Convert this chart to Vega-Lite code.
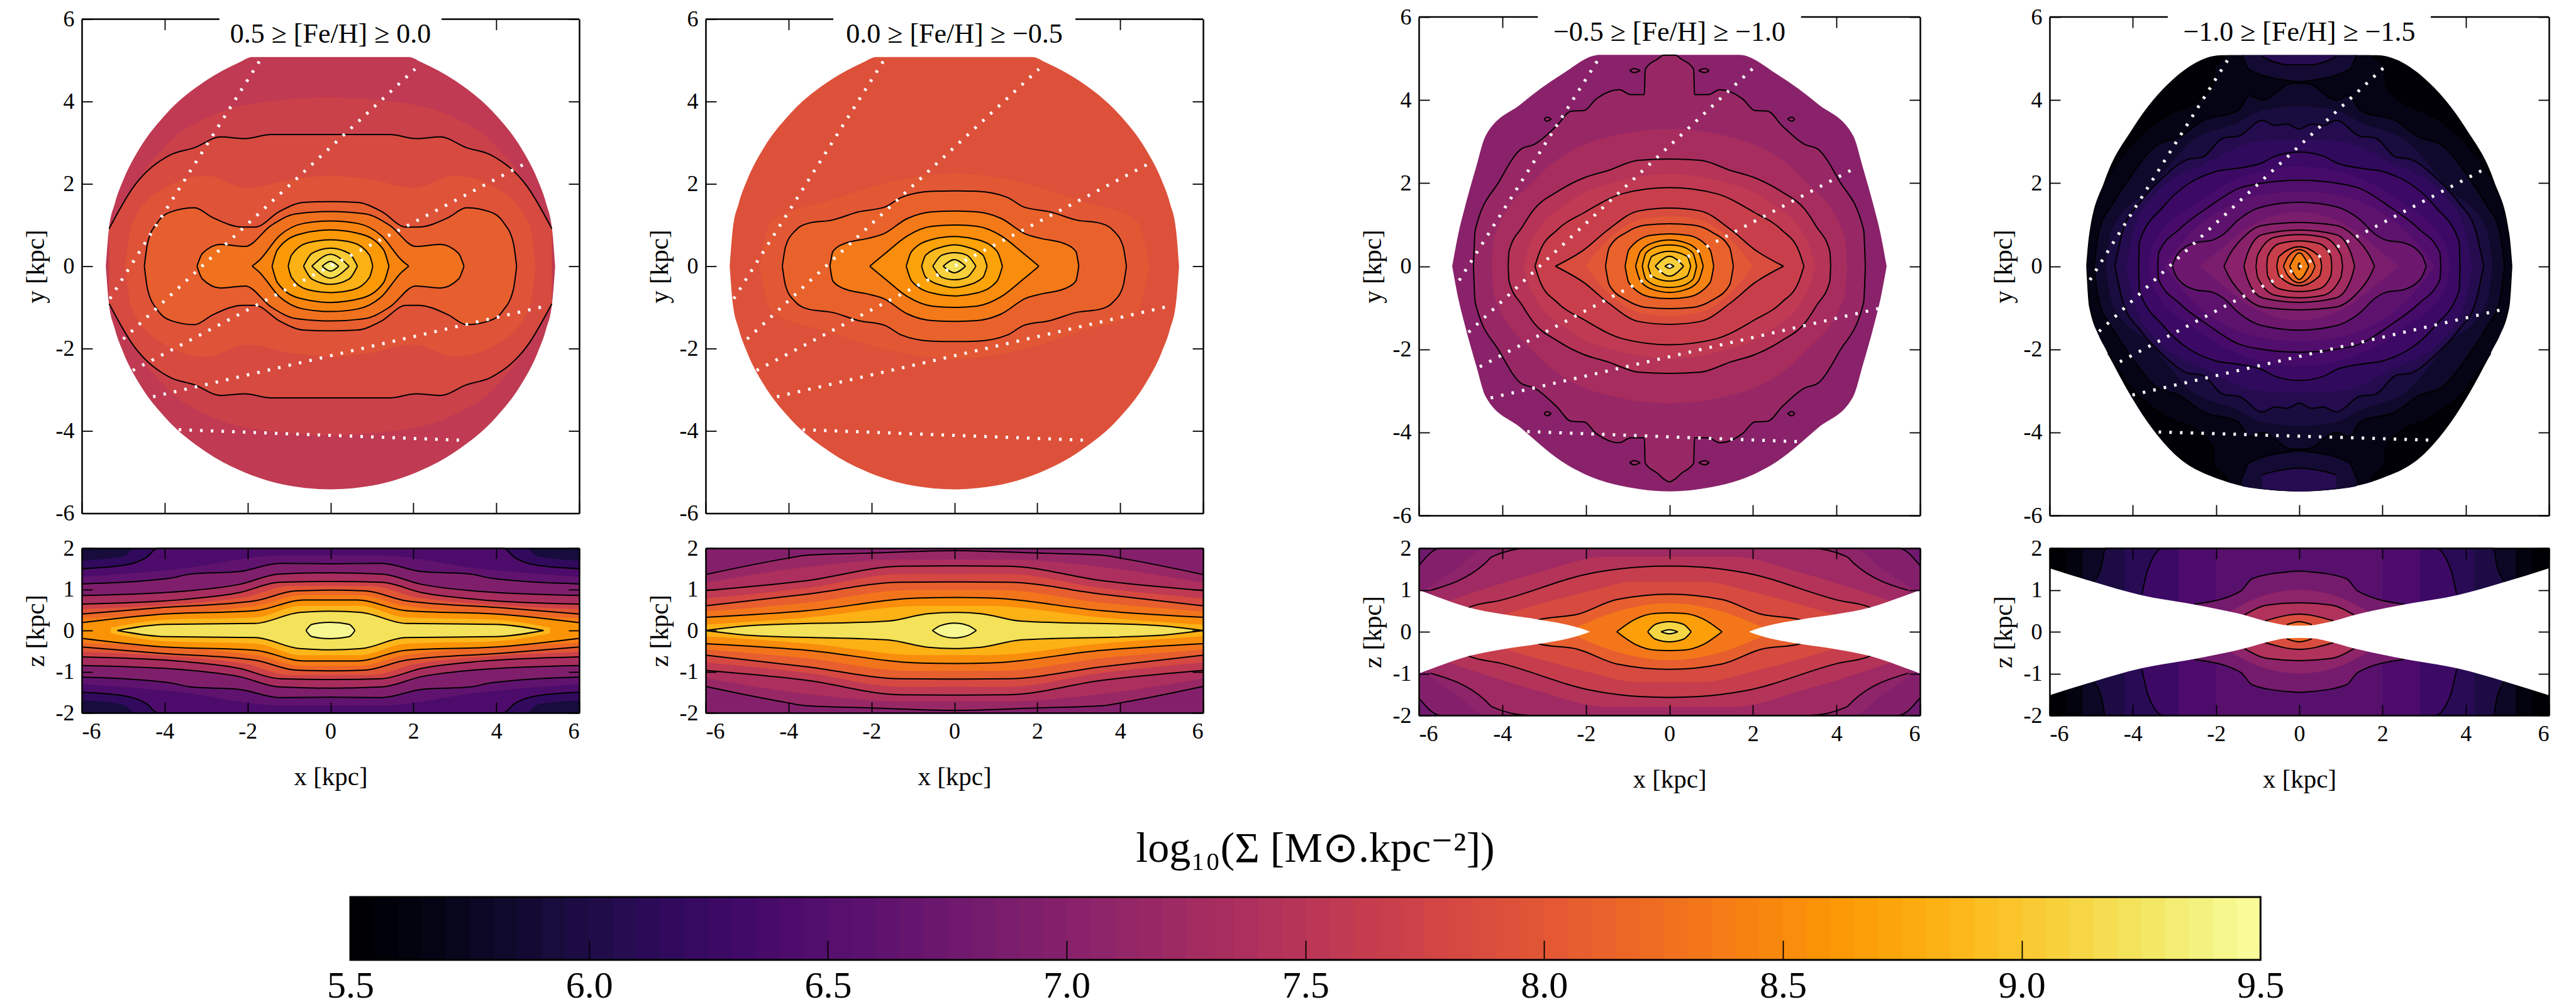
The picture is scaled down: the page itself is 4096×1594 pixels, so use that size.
{"$schema":"https://vega.github.io/schema/vega-lite/v6.json","background":"white","padding":{"left":36,"top":9,"right":0,"bottom":0},
"config":{"view":{"stroke":null},"axis":{"grid":false,"domainColor":"black","domainWidth":2.5,"tickColor":"black","tickWidth":1.8,"tickSize":-17,"labelFont":"Liberation Serif","labelFontSize":36,"labelColor":"black","labelPadding":29,"titleFont":"Liberation Serif","titleFontSize":41,"titleFontWeight":"normal","titleColor":"black"},"line":{"stroke":"black","strokeWidth":2,"interpolate":"monotone"},"area":{"interpolate":"monotone"},"rule":{"stroke":"black","strokeWidth":2.5},"text":{"font":"Liberation Serif","fontSize":44,"color":"black","baseline":"middle"}},
"datasets":{
"f1":[
{"v":7.55,"x":-5.42,"a":0,"b":0},{"v":7.55,"x":-5.35,"a":0.86,"b":-0.86},{"v":7.55,"x":-5.2,"a":1.53,"b":-1.53},{"v":7.55,"x":-5,"a":2.09,"b":-2.09},{"v":7.55,"x":-4.6,"a":2.87,"b":-2.87},{"v":7.55,"x":-4,"a":3.66,"b":-3.66},{"v":7.55,"x":-3,"a":4.51,"b":-4.51},{"v":7.55,"x":-2.2,"a":4.95,"b":-4.95},{"v":7.55,"x":-1.89,"a":5.08,"b":-5.08},{"v":7.55,"x":-1,"a":5.08,"b":-5.33},{"v":7.55,"x":0,"a":5.08,"b":-5.42},{"v":7.55,"x":1,"a":5.08,"b":-5.33},{"v":7.55,"x":1.89,"a":5.08,"b":-5.08},{"v":7.55,"x":2.2,"a":4.95,"b":-4.95},{"v":7.55,"x":3,"a":4.51,"b":-4.51},{"v":7.55,"x":4,"a":3.66,"b":-3.66},{"v":7.55,"x":4.6,"a":2.87,"b":-2.87},{"v":7.55,"x":5,"a":2.09,"b":-2.09},{"v":7.55,"x":5.2,"a":1.53,"b":-1.53},{"v":7.55,"x":5.35,"a":0.86,"b":-0.86},{"v":7.55,"x":5.42,"a":0,"b":0},
{"v":7.68,"x":-5.1,"a":0,"b":0},{"v":7.68,"x":-4.9,"a":1.4,"b":-1.4},{"v":7.68,"x":-4,"a":2.9,"b":-2.9},{"v":7.68,"x":-3,"a":3.6,"b":-3.6},{"v":7.68,"x":-1.5,"a":4,"b":-4},{"v":7.68,"x":0,"a":4.1,"b":-4.1},{"v":7.68,"x":1.5,"a":4,"b":-4},{"v":7.68,"x":3,"a":3.6,"b":-3.6},{"v":7.68,"x":4,"a":2.9,"b":-2.9},{"v":7.68,"x":4.9,"a":1.4,"b":-1.4},{"v":7.68,"x":5.1,"a":0,"b":0},
{"c":3,"v":7.82,"x":-5.34,"a":0.91,"b":-0.91},{"c":3,"v":7.82,"x":-4.75,"a":1.93,"b":-1.93},{"c":3,"v":7.82,"x":-3.87,"a":2.7,"b":-2.7},{"c":3,"v":7.82,"x":-3.28,"a":2.88,"b":-2.88},{"c":3,"v":7.82,"x":-2.65,"a":3.14,"b":-3.14},{"c":3,"v":7.82,"x":-2.07,"a":3.1,"b":-3.1},{"c":3,"v":7.82,"x":-1.43,"a":3.2,"b":-3.2},{"c":3,"v":7.82,"x":0,"a":3.2,"b":-3.2},{"c":3,"v":7.82,"x":1.43,"a":3.2,"b":-3.2},{"c":3,"v":7.82,"x":2.07,"a":3.1,"b":-3.1},{"c":3,"v":7.82,"x":2.65,"a":3.14,"b":-3.14},{"c":3,"v":7.82,"x":3.28,"a":2.88,"b":-2.88},{"c":3,"v":7.82,"x":3.87,"a":2.7,"b":-2.7},{"c":3,"v":7.82,"x":4.75,"a":1.93,"b":-1.93},{"c":3,"v":7.82,"x":5.34,"a":0.91,"b":-0.91},
{"v":7.93,"x":-4.95,"a":0,"b":0},{"v":7.93,"x":-4.8,"a":1,"b":-1},{"v":7.93,"x":-4,"a":1.9,"b":-1.9},{"v":7.93,"x":-3,"a":2.2,"b":-2.2},{"v":7.93,"x":-2,"a":1.9,"b":-1.9},{"v":7.93,"x":-1,"a":2.1,"b":-2.1},{"v":7.93,"x":0,"a":2.2,"b":-2.2},{"v":7.93,"x":1,"a":2.1,"b":-2.1},{"v":7.93,"x":2,"a":1.9,"b":-1.9},{"v":7.93,"x":3,"a":2.2,"b":-2.2},{"v":7.93,"x":4,"a":1.9,"b":-1.9},{"v":7.93,"x":4.8,"a":1,"b":-1},{"v":7.93,"x":4.95,"a":0,"b":0},
{"c":3,"v":8.05,"x":-4.49,"a":0,"b":0},{"c":3,"v":8.05,"x":-4.41,"a":0.57,"b":-0.57},{"c":3,"v":8.05,"x":-4.16,"a":1.08,"b":-1.08},{"c":3,"v":8.05,"x":-3.82,"a":1.33,"b":-1.33},{"c":3,"v":8.05,"x":-3.28,"a":1.42,"b":-1.42},{"c":3,"v":8.05,"x":-2.84,"a":1.18,"b":-1.18},{"c":3,"v":8.05,"x":-2.11,"a":0.95,"b":-0.95},{"c":3,"v":8.05,"x":-1.82,"a":0.95,"b":-0.95},{"c":3,"v":8.05,"x":-1.23,"a":1.33,"b":-1.33},{"c":3,"v":8.05,"x":-0.65,"a":1.55,"b":-1.55},{"c":3,"v":8.05,"x":0,"a":1.57,"b":-1.57},{"c":3,"v":8.05,"x":0.65,"a":1.55,"b":-1.55},{"c":3,"v":8.05,"x":1.23,"a":1.33,"b":-1.33},{"c":3,"v":8.05,"x":1.82,"a":0.95,"b":-0.95},{"c":3,"v":8.05,"x":2.11,"a":0.95,"b":-0.95},{"c":3,"v":8.05,"x":2.84,"a":1.18,"b":-1.18},{"c":3,"v":8.05,"x":3.28,"a":1.42,"b":-1.42},{"c":3,"v":8.05,"x":3.82,"a":1.33,"b":-1.33},{"c":3,"v":8.05,"x":4.16,"a":1.08,"b":-1.08},{"c":3,"v":8.05,"x":4.41,"a":0.57,"b":-0.57},{"c":3,"v":8.05,"x":4.49,"a":0,"b":0},
{"c":3,"v":8.25,"x":-3.22,"a":0,"b":0},{"c":3,"v":8.25,"x":-3.09,"a":0.31,"b":-0.31},{"c":3,"v":8.25,"x":-2.65,"a":0.53,"b":-0.53},{"c":3,"v":8.25,"x":-2.06,"a":0.48,"b":-0.48},{"c":3,"v":8.25,"x":-1.43,"a":0.99,"b":-0.99},{"c":3,"v":8.25,"x":-0.84,"a":1.27,"b":-1.27},{"c":3,"v":8.25,"x":0,"a":1.33,"b":-1.33},{"c":3,"v":8.25,"x":0.84,"a":1.27,"b":-1.27},{"c":3,"v":8.25,"x":1.43,"a":0.99,"b":-0.99},{"c":3,"v":8.25,"x":2.06,"a":0.48,"b":-0.48},{"c":3,"v":8.25,"x":2.65,"a":0.53,"b":-0.53},{"c":3,"v":8.25,"x":3.09,"a":0.31,"b":-0.31},{"c":3,"v":8.25,"x":3.22,"a":0,"b":0},
{"c":3,"v":8.42,"x":-1.89,"a":0,"b":0},{"c":3,"v":8.42,"x":-1.72,"a":0.14,"b":-0.14},{"c":3,"v":8.42,"x":-1.23,"a":0.74,"b":-0.74},{"c":3,"v":8.42,"x":-0.65,"a":1.04,"b":-1.04},{"c":3,"v":8.42,"x":0,"a":1.1,"b":-1.1},{"c":3,"v":8.42,"x":0.65,"a":1.04,"b":-1.04},{"c":3,"v":8.42,"x":1.23,"a":0.74,"b":-0.74},{"c":3,"v":8.42,"x":1.72,"a":0.14,"b":-0.14},{"c":3,"v":8.42,"x":1.89,"a":0,"b":0},
{"c":3,"v":8.6,"x":-1.41,"a":0,"b":0},{"c":3,"v":8.6,"x":-1.28,"a":0.4,"b":-0.4},{"c":3,"v":8.6,"x":-0.74,"a":0.78,"b":-0.78},{"c":3,"v":8.6,"x":0,"a":0.88,"b":-0.88},{"c":3,"v":8.6,"x":0.74,"a":0.78,"b":-0.78},{"c":3,"v":8.6,"x":1.28,"a":0.4,"b":-0.4},{"c":3,"v":8.6,"x":1.41,"a":0,"b":0},
{"c":3,"v":8.8,"x":-1.02,"a":0,"b":0},{"c":3,"v":8.8,"x":-0.94,"a":0.27,"b":-0.27},{"c":3,"v":8.8,"x":-0.55,"a":0.57,"b":-0.57},{"c":3,"v":8.8,"x":0,"a":0.64,"b":-0.64},{"c":3,"v":8.8,"x":0.55,"a":0.57,"b":-0.57},{"c":3,"v":8.8,"x":0.94,"a":0.27,"b":-0.27},{"c":3,"v":8.8,"x":1.02,"a":0,"b":0},
{"c":3,"v":9,"x":-0.65,"a":0,"b":0},{"c":3,"v":9,"x":-0.45,"a":0.31,"b":-0.31},{"c":3,"v":9,"x":0,"a":0.44,"b":-0.44},{"c":3,"v":9,"x":0.45,"a":0.31,"b":-0.31},{"c":3,"v":9,"x":0.65,"a":0,"b":0},
{"c":3,"v":9.15,"x":-0.45,"a":0,"b":0},{"c":3,"v":9.15,"x":0,"a":0.29,"b":-0.29},{"c":3,"v":9.15,"x":0.45,"a":0,"b":0},
{"c":3,"v":9.3,"x":-0.2,"a":0,"b":0},{"c":3,"v":9.3,"x":0,"a":0.12,"b":-0.12},{"c":3,"v":9.3,"x":0.2,"a":0,"b":0}],
"f2":[
{"v":7.9,"x":-5.42,"a":0,"b":0},{"v":7.9,"x":-5.35,"a":0.86,"b":-0.86},{"v":7.9,"x":-5.2,"a":1.53,"b":-1.53},{"v":7.9,"x":-5,"a":2.09,"b":-2.09},{"v":7.9,"x":-4.6,"a":2.87,"b":-2.87},{"v":7.9,"x":-4,"a":3.66,"b":-3.66},{"v":7.9,"x":-3,"a":4.51,"b":-4.51},{"v":7.9,"x":-2.2,"a":4.95,"b":-4.95},{"v":7.9,"x":-1.89,"a":5.08,"b":-5.08},{"v":7.9,"x":-1,"a":5.08,"b":-5.33},{"v":7.9,"x":0,"a":5.08,"b":-5.42},{"v":7.9,"x":1,"a":5.08,"b":-5.33},{"v":7.9,"x":1.89,"a":5.08,"b":-5.08},{"v":7.9,"x":2.2,"a":4.95,"b":-4.95},{"v":7.9,"x":3,"a":4.51,"b":-4.51},{"v":7.9,"x":4,"a":3.66,"b":-3.66},{"v":7.9,"x":4.6,"a":2.87,"b":-2.87},{"v":7.9,"x":5,"a":2.09,"b":-2.09},{"v":7.9,"x":5.2,"a":1.53,"b":-1.53},{"v":7.9,"x":5.35,"a":0.86,"b":-0.86},{"v":7.9,"x":5.42,"a":0,"b":0},
{"v":7.98,"x":-4.7,"a":0,"b":0},{"v":7.98,"x":-4.4,"a":1.1,"b":-1.1},{"v":7.98,"x":-3,"a":1.6,"b":-1.6},{"v":7.98,"x":-1.3,"a":2.1,"b":-2.1},{"v":7.98,"x":0,"a":2.25,"b":-2.25},{"v":7.98,"x":1.3,"a":2.1,"b":-2.1},{"v":7.98,"x":3,"a":1.6,"b":-1.6},{"v":7.98,"x":4.4,"a":1.1,"b":-1.1},{"v":7.98,"x":4.7,"a":0,"b":0},
{"c":3,"v":8.1,"x":-4.15,"a":0,"b":0},{"c":3,"v":8.1,"x":-4.07,"a":0.48,"b":-0.48},{"c":3,"v":8.1,"x":-3.83,"a":0.87,"b":-0.87},{"c":3,"v":8.1,"x":-3.53,"a":1.04,"b":-1.04},{"c":3,"v":8.1,"x":-2.95,"a":1.12,"b":-1.12},{"c":3,"v":8.1,"x":-2.31,"a":1.32,"b":-1.32},{"c":3,"v":8.1,"x":-1.67,"a":1.44,"b":-1.44},{"c":3,"v":8.1,"x":-1.28,"a":1.67,"b":-1.67},{"c":3,"v":8.1,"x":-0.54,"a":1.82,"b":-1.82},{"c":3,"v":8.1,"x":0,"a":1.83,"b":-1.83},{"c":3,"v":8.1,"x":0.54,"a":1.82,"b":-1.82},{"c":3,"v":8.1,"x":1.28,"a":1.67,"b":-1.67},{"c":3,"v":8.1,"x":1.67,"a":1.44,"b":-1.44},{"c":3,"v":8.1,"x":2.31,"a":1.32,"b":-1.32},{"c":3,"v":8.1,"x":2.95,"a":1.12,"b":-1.12},{"c":3,"v":8.1,"x":3.53,"a":1.04,"b":-1.04},{"c":3,"v":8.1,"x":3.83,"a":0.87,"b":-0.87},{"c":3,"v":8.1,"x":4.07,"a":0.48,"b":-0.48},{"c":3,"v":8.1,"x":4.15,"a":0,"b":0},
{"c":3,"v":8.32,"x":-3,"a":0,"b":0},{"c":3,"v":8.32,"x":-2.93,"a":0.36,"b":-0.36},{"c":3,"v":8.32,"x":-2.65,"a":0.55,"b":-0.55},{"c":3,"v":8.32,"x":-2.11,"a":0.67,"b":-0.67},{"c":3,"v":8.32,"x":-1.72,"a":0.78,"b":-0.78},{"c":3,"v":8.32,"x":-1.13,"a":1.16,"b":-1.16},{"c":3,"v":8.32,"x":-0.54,"a":1.32,"b":-1.32},{"c":3,"v":8.32,"x":0,"a":1.34,"b":-1.34},{"c":3,"v":8.32,"x":0.54,"a":1.32,"b":-1.32},{"c":3,"v":8.32,"x":1.13,"a":1.16,"b":-1.16},{"c":3,"v":8.32,"x":1.72,"a":0.78,"b":-0.78},{"c":3,"v":8.32,"x":2.11,"a":0.67,"b":-0.67},{"c":3,"v":8.32,"x":2.65,"a":0.55,"b":-0.55},{"c":3,"v":8.32,"x":2.93,"a":0.36,"b":-0.36},{"c":3,"v":8.32,"x":3,"a":0,"b":0},
{"c":3,"v":8.5,"x":-2.04,"a":0,"b":0},{"c":3,"v":8.5,"x":-1.67,"a":0.31,"b":-0.31},{"c":3,"v":8.5,"x":-1.13,"a":0.74,"b":-0.74},{"c":3,"v":8.5,"x":-0.54,"a":0.97,"b":-0.97},{"c":3,"v":8.5,"x":0,"a":1,"b":-1},{"c":3,"v":8.5,"x":0.54,"a":0.97,"b":-0.97},{"c":3,"v":8.5,"x":1.13,"a":0.74,"b":-0.74},{"c":3,"v":8.5,"x":1.67,"a":0.31,"b":-0.31},{"c":3,"v":8.5,"x":2.04,"a":0,"b":0},
{"c":3,"v":8.68,"x":-1.16,"a":0,"b":0},{"c":3,"v":8.68,"x":-1.03,"a":0.36,"b":-0.36},{"c":3,"v":8.68,"x":-0.54,"a":0.65,"b":-0.65},{"c":3,"v":8.68,"x":0,"a":0.72,"b":-0.72},{"c":3,"v":8.68,"x":0.54,"a":0.65,"b":-0.65},{"c":3,"v":8.68,"x":1.03,"a":0.36,"b":-0.36},{"c":3,"v":8.68,"x":1.16,"a":0,"b":0},
{"c":3,"v":8.88,"x":-0.79,"a":0,"b":0},{"c":3,"v":8.88,"x":-0.69,"a":0.27,"b":-0.27},{"c":3,"v":8.88,"x":-0.25,"a":0.48,"b":-0.48},{"c":3,"v":8.88,"x":0,"a":0.52,"b":-0.52},{"c":3,"v":8.88,"x":0.25,"a":0.48,"b":-0.48},{"c":3,"v":8.88,"x":0.69,"a":0.27,"b":-0.27},{"c":3,"v":8.88,"x":0.79,"a":0,"b":0},
{"c":3,"v":9.05,"x":-0.52,"a":0,"b":0},{"c":3,"v":9.05,"x":-0.3,"a":0.27,"b":-0.27},{"c":3,"v":9.05,"x":0,"a":0.33,"b":-0.33},{"c":3,"v":9.05,"x":0.3,"a":0.27,"b":-0.27},{"c":3,"v":9.05,"x":0.52,"a":0,"b":0},
{"c":3,"v":9.2,"x":-0.27,"a":0,"b":0},{"c":3,"v":9.2,"x":0,"a":0.16,"b":-0.16},{"c":3,"v":9.2,"x":0.27,"a":0,"b":0}],
"f3":[
{"v":7,"x":-5.2,"a":0,"b":0},{"v":7,"x":-5.05,"a":0.8,"b":-0.8},{"v":7,"x":-4.91,"a":1.37,"b":-1.37},{"v":7,"x":-4.63,"a":2.38,"b":-2.38},{"v":7,"x":-4.4,"a":3.14,"b":-3.14},{"v":7,"x":-3.56,"a":3.9,"b":-3.89},{"v":7,"x":-2.59,"a":4.61,"b":-4.69},{"v":7,"x":-1.67,"a":5.09,"b":-5.15},{"v":7,"x":-1,"a":5.09,"b":-5.32},{"v":7,"x":0,"a":5.09,"b":-5.42},{"v":7,"x":1,"a":5.09,"b":-5.32},{"v":7,"x":1.67,"a":5.09,"b":-5.15},{"v":7,"x":2.59,"a":4.61,"b":-4.69},{"v":7,"x":3.56,"a":3.9,"b":-3.89},{"v":7,"x":4.4,"a":3.14,"b":-3.14},{"v":7,"x":4.63,"a":2.38,"b":-2.38},{"v":7,"x":4.91,"a":1.37,"b":-1.37},{"v":7,"x":5.05,"a":0.8,"b":-0.8},{"v":7,"x":5.2,"a":0,"b":0},
{"c":3,"v":7.101,"x":-0.95,"a":4.71,"b":4.71},{"c":3,"v":7.101,"x":-0.85,"a":4.76,"b":4.66},{"c":3,"v":7.101,"x":-0.7,"a":4.71,"b":4.71},{"c":3,"v":7.102,"x":0.7,"a":4.71,"b":4.71},{"c":3,"v":7.102,"x":0.85,"a":4.76,"b":4.66},{"c":3,"v":7.102,"x":0.95,"a":4.71,"b":4.71},
{"c":3,"v":7.103,"x":-0.95,"a":-4.73,"b":-4.73},{"c":3,"v":7.103,"x":-0.85,"a":-4.68,"b":-4.78},{"c":3,"v":7.103,"x":-0.7,"a":-4.73,"b":-4.73},{"c":3,"v":7.104,"x":0.7,"a":-4.73,"b":-4.73},{"c":3,"v":7.104,"x":0.85,"a":-4.68,"b":-4.78},{"c":3,"v":7.104,"x":0.95,"a":-4.73,"b":-4.73},
{"c":3,"v":7.105,"x":-3,"a":3.54,"b":3.54},{"c":3,"v":7.105,"x":-2.93,"a":3.59,"b":3.49},{"c":3,"v":7.105,"x":-2.83,"a":3.54,"b":3.54},{"c":3,"v":7.106,"x":2.83,"a":3.54,"b":3.54},{"c":3,"v":7.106,"x":2.93,"a":3.59,"b":3.49},{"c":3,"v":7.106,"x":3,"a":3.54,"b":3.54},
{"c":3,"v":7.107,"x":-3,"a":-3.55,"b":-3.55},{"c":3,"v":7.107,"x":-2.93,"a":-3.5,"b":-3.6},{"c":3,"v":7.107,"x":-2.83,"a":-3.55,"b":-3.55},{"c":3,"v":7.108,"x":2.83,"a":-3.55,"b":-3.55},{"c":3,"v":7.108,"x":2.93,"a":-3.5,"b":-3.6},{"c":3,"v":7.108,"x":3,"a":-3.55,"b":-3.55},
{"c":3,"v":7.15,"x":-4.69,"a":0,"b":0},{"c":3,"v":7.15,"x":-4.65,"a":0.87,"b":-0.87},{"c":3,"v":7.15,"x":-4.07,"a":2.05,"b":-2.05},{"c":3,"v":7.15,"x":-3.55,"a":2.82,"b":-2.82},{"c":3,"v":7.15,"x":-3.24,"a":2.93,"b":-2.93},{"c":3,"v":7.15,"x":-2.69,"a":3.39,"b":-3.39},{"c":3,"v":7.15,"x":-2.36,"a":3.73,"b":-3.73},{"c":3,"v":7.15,"x":-2.04,"a":3.75,"b":-3.75},{"c":3,"v":7.15,"x":-1.76,"a":4.02,"b":-4.02},{"c":3,"v":7.15,"x":-1.2,"a":4.25,"b":-4.25},{"c":3,"v":7.15,"x":-0.93,"a":4.13,"b":-4.13},{"c":3,"v":7.15,"x":-0.6,"a":4.13,"b":-4.13},{"c":3,"v":7.15,"x":-0.58,"a":4.74,"b":-4.74},{"c":3,"v":7.15,"x":-0.28,"a":4.99,"b":-4.99},{"c":3,"v":7.15,"x":-0.14,"a":5.08,"b":-5.12},{"c":3,"v":7.15,"x":0,"a":5.08,"b":-5.19},{"c":3,"v":7.15,"x":0.14,"a":5.08,"b":-5.12},{"c":3,"v":7.15,"x":0.28,"a":4.99,"b":-4.99},{"c":3,"v":7.15,"x":0.58,"a":4.74,"b":-4.74},{"c":3,"v":7.15,"x":0.6,"a":4.13,"b":-4.13},{"c":3,"v":7.15,"x":0.93,"a":4.13,"b":-4.13},{"c":3,"v":7.15,"x":1.2,"a":4.25,"b":-4.25},{"c":3,"v":7.15,"x":1.76,"a":4.02,"b":-4.02},{"c":3,"v":7.15,"x":2.04,"a":3.75,"b":-3.75},{"c":3,"v":7.15,"x":2.36,"a":3.73,"b":-3.73},{"c":3,"v":7.15,"x":2.69,"a":3.39,"b":-3.39},{"c":3,"v":7.15,"x":3.24,"a":2.93,"b":-2.93},{"c":3,"v":7.15,"x":3.55,"a":2.82,"b":-2.82},{"c":3,"v":7.15,"x":4.07,"a":2.05,"b":-2.05},{"c":3,"v":7.15,"x":4.65,"a":0.87,"b":-0.87},{"c":3,"v":7.15,"x":4.69,"a":0,"b":0},
{"v":7.3,"x":-4.25,"a":0,"b":0},{"v":7.3,"x":-4.2,"a":0.7,"b":-0.7},{"v":7.3,"x":-3.2,"a":2.1,"b":-2.1},{"v":7.3,"x":-1.5,"a":3.1,"b":-3.1},{"v":7.3,"x":0,"a":3.3,"b":-3.3},{"v":7.3,"x":1.5,"a":3.1,"b":-3.1},{"v":7.3,"x":3.2,"a":2.1,"b":-2.1},{"v":7.3,"x":4.2,"a":0.7,"b":-0.7},{"v":7.3,"x":4.25,"a":0,"b":0},
{"c":3,"v":7.45,"x":-3.86,"a":0,"b":0},{"c":3,"v":7.45,"x":-3.84,"a":0.36,"b":-0.36},{"c":3,"v":7.45,"x":-3.52,"a":0.95,"b":-0.95},{"c":3,"v":7.45,"x":-3.24,"a":1.37,"b":-1.37},{"c":3,"v":7.45,"x":-2.69,"a":1.79,"b":-1.79},{"c":3,"v":7.45,"x":-2.04,"a":2.13,"b":-2.13},{"c":3,"v":7.45,"x":-1.48,"a":2.3,"b":-2.3},{"c":3,"v":7.45,"x":-0.74,"a":2.55,"b":-2.55},{"c":3,"v":7.45,"x":0,"a":2.58,"b":-2.58},{"c":3,"v":7.45,"x":0.74,"a":2.55,"b":-2.55},{"c":3,"v":7.45,"x":1.48,"a":2.3,"b":-2.3},{"c":3,"v":7.45,"x":2.04,"a":2.13,"b":-2.13},{"c":3,"v":7.45,"x":2.69,"a":1.79,"b":-1.79},{"c":3,"v":7.45,"x":3.24,"a":1.37,"b":-1.37},{"c":3,"v":7.45,"x":3.52,"a":0.95,"b":-0.95},{"c":3,"v":7.45,"x":3.84,"a":0.36,"b":-0.36},{"c":3,"v":7.45,"x":3.86,"a":0,"b":0},
{"v":7.55,"x":-3.5,"a":0,"b":0},{"v":7.55,"x":-3.3,"a":0.6,"b":-0.6},{"v":7.55,"x":-2.4,"a":1.55,"b":-1.55},{"v":7.55,"x":-1.2,"a":2.05,"b":-2.05},{"v":7.55,"x":0,"a":2.22,"b":-2.22},{"v":7.55,"x":1.2,"a":2.05,"b":-2.05},{"v":7.55,"x":2.4,"a":1.55,"b":-1.55},{"v":7.55,"x":3.3,"a":0.6,"b":-0.6},{"v":7.55,"x":3.5,"a":0,"b":0},
{"c":3,"v":7.65,"x":-3.22,"a":0,"b":0},{"c":3,"v":7.65,"x":-3.1,"a":0.36,"b":-0.36},{"c":3,"v":7.65,"x":-2.69,"a":0.87,"b":-0.87},{"c":3,"v":7.65,"x":-2.04,"a":1.29,"b":-1.29},{"c":3,"v":7.65,"x":-1.11,"a":1.75,"b":-1.75},{"c":3,"v":7.65,"x":0,"a":1.89,"b":-1.89},{"c":3,"v":7.65,"x":1.11,"a":1.75,"b":-1.75},{"c":3,"v":7.65,"x":2.04,"a":1.29,"b":-1.29},{"c":3,"v":7.65,"x":2.69,"a":0.87,"b":-0.87},{"c":3,"v":7.65,"x":3.1,"a":0.36,"b":-0.36},{"c":3,"v":7.65,"x":3.22,"a":0,"b":0},
{"c":3,"v":7.85,"x":-2.73,"a":0,"b":0},{"c":3,"v":7.85,"x":-2.04,"a":0.4,"b":-0.4},{"c":3,"v":7.85,"x":-1.48,"a":0.87,"b":-0.87},{"c":3,"v":7.85,"x":-0.74,"a":1.33,"b":-1.33},{"c":3,"v":7.85,"x":0,"a":1.4,"b":-1.4},{"c":3,"v":7.85,"x":0.74,"a":1.33,"b":-1.33},{"c":3,"v":7.85,"x":1.48,"a":0.87,"b":-0.87},{"c":3,"v":7.85,"x":2.04,"a":0.4,"b":-0.4},{"c":3,"v":7.85,"x":2.73,"a":0,"b":0},
{"v":7.97,"x":-2,"a":0,"b":0},{"v":7.97,"x":-1.6,"a":0.5,"b":-0.5},{"v":7.97,"x":-0.7,"a":1.12,"b":-1.12},{"v":7.97,"x":0,"a":1.2,"b":-1.2},{"v":7.97,"x":0.7,"a":1.12,"b":-1.12},{"v":7.97,"x":1.6,"a":0.5,"b":-0.5},{"v":7.97,"x":2,"a":0,"b":0},
{"c":3,"v":8.1,"x":-1.53,"a":0,"b":0},{"c":3,"v":8.1,"x":-1.44,"a":0.45,"b":-0.45},{"c":3,"v":8.1,"x":-1.02,"a":0.82,"b":-0.82},{"c":3,"v":8.1,"x":-0.56,"a":0.99,"b":-0.99},{"c":3,"v":8.1,"x":0,"a":1.02,"b":-1.02},{"c":3,"v":8.1,"x":0.56,"a":0.99,"b":-0.99},{"c":3,"v":8.1,"x":1.02,"a":0.82,"b":-0.82},{"c":3,"v":8.1,"x":1.44,"a":0.45,"b":-0.45},{"c":3,"v":8.1,"x":1.53,"a":0,"b":0},
{"c":3,"v":8.4,"x":-1.06,"a":0,"b":0},{"c":3,"v":8.4,"x":-0.97,"a":0.4,"b":-0.4},{"c":3,"v":8.4,"x":-0.46,"a":0.74,"b":-0.74},{"c":3,"v":8.4,"x":0,"a":0.78,"b":-0.78},{"c":3,"v":8.4,"x":0.46,"a":0.74,"b":-0.74},{"c":3,"v":8.4,"x":0.97,"a":0.4,"b":-0.4},{"c":3,"v":8.4,"x":1.06,"a":0,"b":0},
{"c":3,"v":8.55,"x":-0.81,"a":0,"b":0},{"c":3,"v":8.55,"x":-0.69,"a":0.36,"b":-0.36},{"c":3,"v":8.55,"x":-0.37,"a":0.57,"b":-0.57},{"c":3,"v":8.55,"x":0,"a":0.63,"b":-0.63},{"c":3,"v":8.55,"x":0.37,"a":0.57,"b":-0.57},{"c":3,"v":8.55,"x":0.69,"a":0.36,"b":-0.36},{"c":3,"v":8.55,"x":0.81,"a":0,"b":0},
{"c":3,"v":8.72,"x":-0.65,"a":0,"b":0},{"c":3,"v":8.72,"x":-0.56,"a":0.32,"b":-0.32},{"c":3,"v":8.72,"x":-0.23,"a":0.49,"b":-0.49},{"c":3,"v":8.72,"x":0,"a":0.51,"b":-0.51},{"c":3,"v":8.72,"x":0.23,"a":0.49,"b":-0.49},{"c":3,"v":8.72,"x":0.56,"a":0.32,"b":-0.32},{"c":3,"v":8.72,"x":0.65,"a":0,"b":0},
{"c":3,"v":8.88,"x":-0.51,"a":0,"b":0},{"c":3,"v":8.88,"x":-0.42,"a":0.24,"b":-0.24},{"c":3,"v":8.88,"x":0,"a":0.36,"b":-0.36},{"c":3,"v":8.88,"x":0.42,"a":0.24,"b":-0.24},{"c":3,"v":8.88,"x":0.51,"a":0,"b":0},
{"c":3,"v":9.05,"x":-0.34,"a":0,"b":0},{"c":3,"v":9.05,"x":0,"a":0.24,"b":-0.24},{"c":3,"v":9.05,"x":0.34,"a":0,"b":0},
{"c":3,"v":9.2,"x":-0.11,"a":0,"b":0},{"c":3,"v":9.2,"x":0,"a":0.05,"b":-0.05},{"c":3,"v":9.2,"x":0.11,"a":0,"b":0}],
"f4":[
{"v":5.52,"x":-5.12,"a":0,"b":0},{"v":5.52,"x":-5.05,"a":0.76,"b":-0.98},{"v":5.52,"x":-4.68,"a":2.05,"b":-1.9},{"v":5.52,"x":-4.02,"a":3.29,"b":-3.17},{"v":5.52,"x":-3,"a":4.53,"b":-4.52},{"v":5.52,"x":-1.86,"a":5.08,"b":-5.15},{"v":5.52,"x":-0.94,"a":5.08,"b":-5.36},{"v":5.52,"x":0,"a":5.08,"b":-5.42},{"v":5.52,"x":0.94,"a":5.08,"b":-5.36},{"v":5.52,"x":1.86,"a":5.08,"b":-5.15},{"v":5.52,"x":3,"a":4.53,"b":-4.52},{"v":5.52,"x":4.02,"a":3.29,"b":-3.17},{"v":5.52,"x":4.68,"a":2.05,"b":-1.9},{"v":5.52,"x":5.05,"a":0.76,"b":-0.98},{"v":5.52,"x":5.12,"a":0,"b":0},
{"v":5.65,"x":-5.1,"a":0,"b":0},{"v":5.65,"x":-5.03,"a":0.76,"b":-0.9},{"v":5.65,"x":-4.6,"a":2.14,"b":-2.1},{"v":5.65,"x":-4.02,"a":2.93,"b":-2.93},{"v":5.65,"x":-3.05,"a":3.69,"b":-3.69},{"v":5.65,"x":-2.52,"a":3.91,"b":-3.91},{"v":5.65,"x":-2.06,"a":4.4,"b":-4.4},{"v":5.65,"x":-2.05,"a":4.75,"b":-4.75},{"v":5.65,"x":-1.73,"a":5.06,"b":-5.1},{"v":5.65,"x":-1.7,"a":5.08,"b":-5.2},{"v":5.65,"x":0,"a":5.08,"b":-5.42},{"v":5.65,"x":1.7,"a":5.08,"b":-5.2},{"v":5.65,"x":1.73,"a":5.06,"b":-5.1},{"v":5.65,"x":2.05,"a":4.75,"b":-4.75},{"v":5.65,"x":2.06,"a":4.4,"b":-4.4},{"v":5.65,"x":2.52,"a":3.91,"b":-3.91},{"v":5.65,"x":3.05,"a":3.69,"b":-3.69},{"v":5.65,"x":4.02,"a":2.93,"b":-2.93},{"v":5.65,"x":4.6,"a":2.14,"b":-2.1},{"v":5.65,"x":5.03,"a":0.76,"b":-0.9},{"v":5.65,"x":5.1,"a":0,"b":0},
{"c":1,"v":5.651,"x":-4.6,"a":2.14,"b":2.14},{"c":1,"v":5.651,"x":-4.02,"a":2.93,"b":2.93},{"c":1,"v":5.651,"x":-3.05,"a":3.69,"b":3.69},{"c":1,"v":5.651,"x":-2.52,"a":3.91,"b":3.91},{"c":1,"v":5.651,"x":-2.06,"a":4.4,"b":4.4},{"c":1,"v":5.651,"x":-2.05,"a":4.75,"b":4.75},{"c":1,"v":5.651,"x":-1.73,"a":5.06,"b":5.06},
{"c":1,"v":5.652,"x":4.6,"a":2.14,"b":2.14},{"c":1,"v":5.652,"x":4.02,"a":2.93,"b":2.93},{"c":1,"v":5.652,"x":3.05,"a":3.69,"b":3.69},{"c":1,"v":5.652,"x":2.52,"a":3.91,"b":3.91},{"c":1,"v":5.652,"x":2.06,"a":4.4,"b":4.4},{"c":1,"v":5.652,"x":2.05,"a":4.75,"b":4.75},{"c":1,"v":5.652,"x":1.73,"a":5.06,"b":5.06},
{"c":1,"v":5.653,"x":-4.6,"a":-2.1,"b":-2.1},{"c":1,"v":5.653,"x":-4.02,"a":-2.93,"b":-2.93},{"c":1,"v":5.653,"x":-3.05,"a":-3.69,"b":-3.69},{"c":1,"v":5.653,"x":-2.52,"a":-3.91,"b":-3.91},{"c":1,"v":5.653,"x":-2.06,"a":-4.4,"b":-4.4},{"c":1,"v":5.653,"x":-2.05,"a":-4.75,"b":-4.75},{"c":1,"v":5.653,"x":-1.73,"a":-5.15,"b":-5.15},
{"c":1,"v":5.654,"x":4.6,"a":-2.1,"b":-2.1},{"c":1,"v":5.654,"x":4.02,"a":-2.93,"b":-2.93},{"c":1,"v":5.654,"x":3.05,"a":-3.69,"b":-3.69},{"c":1,"v":5.654,"x":2.52,"a":-3.91,"b":-3.91},{"c":1,"v":5.654,"x":2.06,"a":-4.4,"b":-4.4},{"c":1,"v":5.654,"x":2.05,"a":-4.75,"b":-4.75},{"c":1,"v":5.654,"x":1.73,"a":-5.15,"b":-5.15},
{"c":2,"v":5.851,"x":-1.37,"a":5.08,"b":5.08},{"c":2,"v":5.851,"x":-1.2,"a":5.08,"b":4.73},{"c":2,"v":5.851,"x":-0.18,"a":5.08,"b":4.46},{"c":2,"v":5.851,"x":0,"a":5.08,"b":4.44},{"c":2,"v":5.851,"x":0.18,"a":5.08,"b":4.46},{"c":2,"v":5.851,"x":1.2,"a":5.08,"b":4.73},{"c":2,"v":5.851,"x":1.37,"a":5.08,"b":5.08},
{"c":1,"v":5.852,"x":-1.37,"a":-5.1,"b":-5.3},{"c":1,"v":5.852,"x":-1.2,"a":-4.73,"b":-5.33},{"c":1,"v":5.852,"x":-0.18,"a":-4.46,"b":-5.41},{"c":1,"v":5.852,"x":0,"a":-4.44,"b":-5.42},{"c":1,"v":5.852,"x":0.18,"a":-4.46,"b":-5.41},{"c":1,"v":5.852,"x":1.2,"a":-4.73,"b":-5.33},{"c":1,"v":5.852,"x":1.37,"a":-5.1,"b":-5.3},
{"c":2,"v":6.051,"x":-0.89,"a":5.08,"b":5.05},{"c":2,"v":6.051,"x":-0.58,"a":5.08,"b":4.91},{"c":2,"v":6.051,"x":-0.27,"a":5.08,"b":4.85},{"c":2,"v":6.051,"x":0,"a":5.08,"b":4.85},{"c":2,"v":6.051,"x":0.27,"a":5.08,"b":4.85},{"c":2,"v":6.051,"x":0.58,"a":5.08,"b":4.91},{"c":2,"v":6.051,"x":0.89,"a":5.08,"b":5.05},
{"c":1,"v":6.052,"x":-0.89,"a":-5.02,"b":-5.34},{"c":1,"v":6.052,"x":-0.5,"a":-4.92,"b":-5.39},{"c":1,"v":6.052,"x":0,"a":-4.86,"b":-5.42},{"c":1,"v":6.052,"x":0.5,"a":-4.92,"b":-5.39},{"c":1,"v":6.052,"x":0.89,"a":-5.02,"b":-5.34},
{"c":3,"v":5.8,"x":-4.93,"a":0,"b":0},{"c":3,"v":5.8,"x":-4.9,"a":0.27,"b":-0.27},{"c":3,"v":5.8,"x":-4.81,"a":0.85,"b":-0.85},{"c":3,"v":5.8,"x":-4.5,"a":1.47,"b":-1.47},{"c":3,"v":5.8,"x":-4.1,"a":2.09,"b":-2.09},{"c":3,"v":5.8,"x":-3.4,"a":2.93,"b":-2.93},{"c":3,"v":5.8,"x":-2.87,"a":3.11,"b":-3.11},{"c":3,"v":5.8,"x":-2.34,"a":3.49,"b":-3.49},{"c":3,"v":5.8,"x":-1.46,"a":3.75,"b":-3.75},{"c":3,"v":5.8,"x":-1.2,"a":4.11,"b":-4.11},{"c":3,"v":5.8,"x":-0.89,"a":4,"b":-4},{"c":3,"v":5.8,"x":-0.18,"a":4.4,"b":-4.4},{"c":3,"v":5.8,"x":0.18,"a":4.4,"b":-4.4},{"c":3,"v":5.8,"x":0.89,"a":4,"b":-4},{"c":3,"v":5.8,"x":1.2,"a":4.11,"b":-4.11},{"c":3,"v":5.8,"x":1.46,"a":3.75,"b":-3.75},{"c":3,"v":5.8,"x":2.34,"a":3.49,"b":-3.49},{"c":3,"v":5.8,"x":2.87,"a":3.11,"b":-3.11},{"c":3,"v":5.8,"x":3.4,"a":2.93,"b":-2.93},{"c":3,"v":5.8,"x":4.1,"a":2.09,"b":-2.09},{"c":3,"v":5.8,"x":4.5,"a":1.47,"b":-1.47},{"c":3,"v":5.8,"x":4.81,"a":0.85,"b":-0.85},{"c":3,"v":5.8,"x":4.9,"a":0.27,"b":-0.27},{"c":3,"v":5.8,"x":4.93,"a":0,"b":0},
{"v":5.92,"x":-4.65,"a":0,"b":0},{"v":5.92,"x":-4.5,"a":0.9,"b":-0.9},{"v":5.92,"x":-3.55,"a":1.9,"b":-1.9},{"v":5.92,"x":-2.6,"a":3,"b":-3},{"v":5.92,"x":-1.5,"a":3.45,"b":-3.45},{"v":5.92,"x":-0.9,"a":3.75,"b":-3.75},{"v":5.92,"x":0,"a":3.85,"b":-3.85},{"v":5.92,"x":0.9,"a":3.75,"b":-3.75},{"v":5.92,"x":1.5,"a":3.45,"b":-3.45},{"v":5.92,"x":2.6,"a":3,"b":-3},{"v":5.92,"x":3.55,"a":1.9,"b":-1.9},{"v":5.92,"x":4.5,"a":0.9,"b":-0.9},{"v":5.92,"x":4.65,"a":0,"b":0},
{"c":3,"v":6.03,"x":-4.43,"a":0,"b":0},{"c":3,"v":6.03,"x":-4.24,"a":0.85,"b":-0.85},{"c":3,"v":6.03,"x":-3.84,"a":1.52,"b":-1.52},{"c":3,"v":6.03,"x":-3.27,"a":2.14,"b":-2.14},{"c":3,"v":6.03,"x":-2.65,"a":2.58,"b":-2.58},{"c":3,"v":6.03,"x":-2.34,"a":2.62,"b":-2.62},{"c":3,"v":6.03,"x":-1.81,"a":3.09,"b":-3.09},{"c":3,"v":6.03,"x":-1.46,"a":3.13,"b":-3.13},{"c":3,"v":6.03,"x":-0.89,"a":3.51,"b":-3.51},{"c":3,"v":6.03,"x":-0.58,"a":3.39,"b":-3.39},{"c":3,"v":6.03,"x":-0.3,"a":3.42,"b":-3.42},{"c":3,"v":6.03,"x":0,"a":3.3,"b":-3.3},{"c":3,"v":6.03,"x":0.3,"a":3.42,"b":-3.42},{"c":3,"v":6.03,"x":0.58,"a":3.39,"b":-3.39},{"c":3,"v":6.03,"x":0.89,"a":3.51,"b":-3.51},{"c":3,"v":6.03,"x":1.46,"a":3.13,"b":-3.13},{"c":3,"v":6.03,"x":1.81,"a":3.09,"b":-3.09},{"c":3,"v":6.03,"x":2.34,"a":2.62,"b":-2.62},{"c":3,"v":6.03,"x":2.65,"a":2.58,"b":-2.58},{"c":3,"v":6.03,"x":3.27,"a":2.14,"b":-2.14},{"c":3,"v":6.03,"x":3.84,"a":1.52,"b":-1.52},{"c":3,"v":6.03,"x":4.24,"a":0.85,"b":-0.85},{"c":3,"v":6.03,"x":4.43,"a":0,"b":0},
{"v":6.14,"x":-4.15,"a":0,"b":0},{"v":6.14,"x":-4,"a":0.8,"b":-0.8},{"v":6.14,"x":-3.5,"a":1.7,"b":-1.7},{"v":6.14,"x":-2.2,"a":2.5,"b":-2.5},{"v":6.14,"x":-1,"a":3,"b":-3},{"v":6.14,"x":0,"a":3.05,"b":-3.05},{"v":6.14,"x":1,"a":3,"b":-3},{"v":6.14,"x":2.2,"a":2.5,"b":-2.5},{"v":6.14,"x":3.5,"a":1.7,"b":-1.7},{"v":6.14,"x":4,"a":0.8,"b":-0.8},{"v":6.14,"x":4.15,"a":0,"b":0},
{"c":3,"v":6.25,"x":-3.86,"a":0,"b":0},{"c":3,"v":6.25,"x":-3.84,"a":0.59,"b":-0.59},{"c":3,"v":6.25,"x":-3.27,"a":1.43,"b":-1.43},{"c":3,"v":6.25,"x":-2.04,"a":2.27,"b":-2.27},{"c":3,"v":6.25,"x":-1.46,"a":2.36,"b":-2.36},{"c":3,"v":6.25,"x":-0.89,"a":2.49,"b":-2.49},{"c":3,"v":6.25,"x":-0.58,"a":2.65,"b":-2.65},{"c":3,"v":6.25,"x":0,"a":2.75,"b":-2.75},{"c":3,"v":6.25,"x":0.58,"a":2.65,"b":-2.65},{"c":3,"v":6.25,"x":0.89,"a":2.49,"b":-2.49},{"c":3,"v":6.25,"x":1.46,"a":2.36,"b":-2.36},{"c":3,"v":6.25,"x":2.04,"a":2.27,"b":-2.27},{"c":3,"v":6.25,"x":3.27,"a":1.43,"b":-1.43},{"c":3,"v":6.25,"x":3.84,"a":0.59,"b":-0.59},{"c":3,"v":6.25,"x":3.86,"a":0,"b":0},
{"v":6.35,"x":-3.62,"a":0,"b":0},{"v":6.35,"x":-3.5,"a":0.55,"b":-0.55},{"v":6.35,"x":-2.5,"a":1.5,"b":-1.5},{"v":6.35,"x":-1.5,"a":2.1,"b":-2.1},{"v":6.35,"x":0,"a":2.4,"b":-2.4},{"v":6.35,"x":1.5,"a":2.1,"b":-2.1},{"v":6.35,"x":2.5,"a":1.5,"b":-1.5},{"v":6.35,"x":3.5,"a":0.55,"b":-0.55},{"v":6.35,"x":3.62,"a":0,"b":0},
{"c":3,"v":6.45,"x":-3.4,"a":0,"b":0},{"c":3,"v":6.45,"x":-3.38,"a":0.32,"b":-0.32},{"c":3,"v":6.45,"x":-2.87,"a":0.9,"b":-0.9},{"c":3,"v":6.45,"x":-2.17,"a":1.43,"b":-1.43},{"c":3,"v":6.45,"x":-1.46,"a":1.87,"b":-1.87},{"c":3,"v":6.45,"x":-0.89,"a":2,"b":-2},{"c":3,"v":6.45,"x":0,"a":2.07,"b":-2.07},{"c":3,"v":6.45,"x":0.89,"a":2,"b":-2},{"c":3,"v":6.45,"x":1.46,"a":1.87,"b":-1.87},{"c":3,"v":6.45,"x":2.17,"a":1.43,"b":-1.43},{"c":3,"v":6.45,"x":2.87,"a":0.9,"b":-0.9},{"c":3,"v":6.45,"x":3.38,"a":0.32,"b":-0.32},{"c":3,"v":6.45,"x":3.4,"a":0,"b":0},
{"v":6.57,"x":-3.25,"a":0,"b":0},{"v":6.57,"x":-2.7,"a":0.7,"b":-0.7},{"v":6.57,"x":-1.6,"a":1.5,"b":-1.5},{"v":6.57,"x":-0.9,"a":1.72,"b":-1.72},{"v":6.57,"x":0,"a":1.8,"b":-1.8},{"v":6.57,"x":0.9,"a":1.72,"b":-1.72},{"v":6.57,"x":1.6,"a":1.5,"b":-1.5},{"v":6.57,"x":2.7,"a":0.7,"b":-0.7},{"v":6.57,"x":3.25,"a":0,"b":0},
{"c":3,"v":6.72,"x":-3.05,"a":0,"b":0},{"c":3,"v":6.72,"x":-2.94,"a":0.27,"b":-0.27},{"c":3,"v":6.72,"x":-2.52,"a":0.56,"b":-0.56},{"c":3,"v":6.72,"x":-2.08,"a":0.63,"b":-0.63},{"c":3,"v":6.72,"x":-1.81,"a":0.78,"b":-0.78},{"c":3,"v":6.72,"x":-1.46,"a":1.12,"b":-1.12},{"c":3,"v":6.72,"x":-0.89,"a":1.43,"b":-1.43},{"c":3,"v":6.72,"x":0,"a":1.54,"b":-1.54},{"c":3,"v":6.72,"x":0.89,"a":1.43,"b":-1.43},{"c":3,"v":6.72,"x":1.46,"a":1.12,"b":-1.12},{"c":3,"v":6.72,"x":1.81,"a":0.78,"b":-0.78},{"c":3,"v":6.72,"x":2.08,"a":0.63,"b":-0.63},{"c":3,"v":6.72,"x":2.52,"a":0.56,"b":-0.56},{"c":3,"v":6.72,"x":2.94,"a":0.27,"b":-0.27},{"c":3,"v":6.72,"x":3.05,"a":0,"b":0},
{"v":6.86,"x":-2.4,"a":0,"b":0},{"v":6.86,"x":-1.9,"a":0.4,"b":-0.4},{"v":6.86,"x":-1.2,"a":0.95,"b":-0.95},{"v":6.86,"x":0,"a":1.3,"b":-1.3},{"v":6.86,"x":1.2,"a":0.95,"b":-0.95},{"v":6.86,"x":1.9,"a":0.4,"b":-0.4},{"v":6.86,"x":2.4,"a":0,"b":0},
{"c":3,"v":7,"x":-1.81,"a":0,"b":0},{"c":3,"v":7,"x":-1.68,"a":0.27,"b":-0.27},{"c":3,"v":7,"x":-1.37,"a":0.67,"b":-0.67},{"c":3,"v":7,"x":-0.89,"a":0.98,"b":-0.98},{"c":3,"v":7,"x":0,"a":1.05,"b":-1.05},{"c":3,"v":7,"x":0.89,"a":0.98,"b":-0.98},{"c":3,"v":7,"x":1.37,"a":0.67,"b":-0.67},{"c":3,"v":7,"x":1.68,"a":0.27,"b":-0.27},{"c":3,"v":7,"x":1.81,"a":0,"b":0},
{"c":3,"v":7.25,"x":-1.33,"a":0,"b":0},{"c":3,"v":7.25,"x":-1.24,"a":0.32,"b":-0.32},{"c":3,"v":7.25,"x":-0.89,"a":0.76,"b":-0.76},{"c":3,"v":7.25,"x":0,"a":0.87,"b":-0.87},{"c":3,"v":7.25,"x":0.89,"a":0.76,"b":-0.76},{"c":3,"v":7.25,"x":1.24,"a":0.32,"b":-0.32},{"c":3,"v":7.25,"x":1.33,"a":0,"b":0},
{"c":3,"v":7.45,"x":-1.04,"a":0,"b":0},{"c":3,"v":7.45,"x":-1,"a":0.27,"b":-0.27},{"c":3,"v":7.45,"x":-0.58,"a":0.7,"b":-0.7},{"c":3,"v":7.45,"x":0,"a":0.76,"b":-0.76},{"c":3,"v":7.45,"x":0.58,"a":0.7,"b":-0.7},{"c":3,"v":7.45,"x":1,"a":0.27,"b":-0.27},{"c":3,"v":7.45,"x":1.04,"a":0,"b":0},
{"c":3,"v":7.65,"x":-0.78,"a":0,"b":0},{"c":3,"v":7.65,"x":-0.76,"a":0.23,"b":-0.23},{"c":3,"v":7.65,"x":-0.49,"a":0.54,"b":-0.54},{"c":3,"v":7.65,"x":0,"a":0.61,"b":-0.61},{"c":3,"v":7.65,"x":0.49,"a":0.54,"b":-0.54},{"c":3,"v":7.65,"x":0.76,"a":0.23,"b":-0.23},{"c":3,"v":7.65,"x":0.78,"a":0,"b":0},
{"c":3,"v":7.9,"x":-0.54,"a":0,"b":0},{"c":3,"v":7.9,"x":-0.49,"a":0.23,"b":-0.23},{"c":3,"v":7.9,"x":0,"a":0.47,"b":-0.47},{"c":3,"v":7.9,"x":0.49,"a":0.23,"b":-0.23},{"c":3,"v":7.9,"x":0.54,"a":0,"b":0},
{"c":3,"v":8.15,"x":-0.38,"a":0,"b":0},{"c":3,"v":8.15,"x":-0.27,"a":0.23,"b":-0.23},{"c":3,"v":8.15,"x":0,"a":0.4,"b":-0.4},{"c":3,"v":8.15,"x":0.27,"a":0.23,"b":-0.23},{"c":3,"v":8.15,"x":0.38,"a":0,"b":0},
{"c":3,"v":8.4,"x":-0.23,"a":0,"b":0},{"c":3,"v":8.4,"x":0,"a":0.32,"b":-0.32},{"c":3,"v":8.4,"x":0.23,"a":0,"b":0},
{"c":3,"v":8.55,"x":-0.03,"a":0,"b":0},{"c":3,"v":8.55,"x":0,"a":0.08,"b":-0.08},{"c":3,"v":8.55,"x":0.03,"a":0,"b":0}],
"f5":[
{"v":5.9,"x":-6,"a":2,"b":-2},{"v":5.9,"x":6,"a":2,"b":-2},
{"v":6.15,"x":-6,"a":1.7,"b":-1.7},{"v":6.15,"x":-5,"a":1.8,"b":-1.8},{"v":6.15,"x":-4.7,"a":2,"b":-2},{"v":6.15,"x":4.7,"a":2,"b":-2},{"v":6.15,"x":5,"a":1.8,"b":-1.8},{"v":6.15,"x":6,"a":1.7,"b":-1.7},
{"c":3,"v":6.4,"x":-6,"a":1.5,"b":-1.5},{"c":3,"v":6.4,"x":-4.95,"a":1.59,"b":-1.59},{"c":3,"v":6.4,"x":-4.45,"a":1.77,"b":-1.77},{"c":3,"v":6.4,"x":-4.16,"a":2,"b":-2},{"c":3,"v":6.4,"x":4.16,"a":2,"b":-2},{"c":3,"v":6.4,"x":4.45,"a":1.77,"b":-1.77},{"c":3,"v":6.4,"x":4.95,"a":1.59,"b":-1.59},{"c":3,"v":6.4,"x":6,"a":1.5,"b":-1.5},
{"v":6.6,"x":-6,"a":1.3,"b":-1.3},{"v":6.6,"x":-3.6,"a":1.5,"b":-1.5},{"v":6.6,"x":-1.2,"a":1.82,"b":-1.82},{"v":6.6,"x":1.2,"a":1.82,"b":-1.82},{"v":6.6,"x":3.6,"a":1.5,"b":-1.5},{"v":6.6,"x":6,"a":1.3,"b":-1.3},
{"c":3,"v":6.9,"x":-6,"a":1.13,"b":-1.13},{"c":3,"v":6.9,"x":-3.87,"a":1.27,"b":-1.27},{"c":3,"v":6.9,"x":-3.38,"a":1.37,"b":-1.37},{"c":3,"v":6.9,"x":-2.2,"a":1.43,"b":-1.43},{"c":3,"v":6.9,"x":-1.23,"a":1.63,"b":-1.63},{"c":3,"v":6.9,"x":0,"a":1.62,"b":-1.62},{"c":3,"v":6.9,"x":1.23,"a":1.63,"b":-1.63},{"c":3,"v":6.9,"x":2.2,"a":1.43,"b":-1.43},{"c":3,"v":6.9,"x":3.38,"a":1.37,"b":-1.37},{"c":3,"v":6.9,"x":3.87,"a":1.27,"b":-1.27},{"c":3,"v":6.9,"x":6,"a":1.13,"b":-1.13},
{"c":3,"v":7.3,"x":-6,"a":0.85,"b":-0.85},{"c":3,"v":7.3,"x":-3.58,"a":0.95,"b":-0.95},{"c":3,"v":7.3,"x":-2.2,"a":1.12,"b":-1.12},{"c":3,"v":7.3,"x":-1.23,"a":1.37,"b":-1.37},{"c":3,"v":7.3,"x":0,"a":1.4,"b":-1.4},{"c":3,"v":7.3,"x":1.23,"a":1.37,"b":-1.37},{"c":3,"v":7.3,"x":2.2,"a":1.12,"b":-1.12},{"c":3,"v":7.3,"x":3.58,"a":0.95,"b":-0.95},{"c":3,"v":7.3,"x":6,"a":0.85,"b":-0.85},
{"c":3,"v":7.7,"x":-6,"a":0.64,"b":-0.64},{"c":3,"v":7.7,"x":-3.58,"a":0.75,"b":-0.75},{"c":3,"v":7.7,"x":-2.2,"a":0.92,"b":-0.92},{"c":3,"v":7.7,"x":-1.23,"a":1.17,"b":-1.17},{"c":3,"v":7.7,"x":0,"a":1.19,"b":-1.19},{"c":3,"v":7.7,"x":1.23,"a":1.17,"b":-1.17},{"c":3,"v":7.7,"x":2.2,"a":0.92,"b":-0.92},{"c":3,"v":7.7,"x":3.58,"a":0.75,"b":-0.75},{"c":3,"v":7.7,"x":6,"a":0.64,"b":-0.64},
{"v":7.95,"x":-6,"a":0.52,"b":-0.52},{"v":7.95,"x":-2.1,"a":0.8,"b":-0.8},{"v":7.95,"x":-1,"a":1.08,"b":-1.08},{"v":7.95,"x":1,"a":1.08,"b":-1.08},{"v":7.95,"x":2.1,"a":0.8,"b":-0.8},{"v":7.95,"x":6,"a":0.52,"b":-0.52},
{"c":3,"v":8.15,"x":-6,"a":0.4,"b":-0.4},{"c":3,"v":8.15,"x":-4.16,"a":0.55,"b":-0.55},{"c":3,"v":8.15,"x":-1.82,"a":0.72,"b":-0.72},{"c":3,"v":8.15,"x":-0.84,"a":0.96,"b":-0.96},{"c":3,"v":8.15,"x":0,"a":0.98,"b":-0.98},{"c":3,"v":8.15,"x":0.84,"a":0.96,"b":-0.96},{"c":3,"v":8.15,"x":1.82,"a":0.72,"b":-0.72},{"c":3,"v":8.15,"x":4.16,"a":0.55,"b":-0.55},{"c":3,"v":8.15,"x":6,"a":0.4,"b":-0.4},
{"v":8.35,"x":-6,"a":0.3,"b":-0.3},{"v":8.35,"x":-1.8,"a":0.6,"b":-0.6},{"v":8.35,"x":-0.7,"a":0.86,"b":-0.86},{"v":8.35,"x":0.7,"a":0.86,"b":-0.86},{"v":8.35,"x":1.8,"a":0.6,"b":-0.6},{"v":8.35,"x":6,"a":0.3,"b":-0.3},
{"c":3,"v":8.55,"x":-6,"a":0.19,"b":-0.19},{"c":3,"v":8.55,"x":-4.16,"a":0.39,"b":-0.39},{"c":3,"v":8.55,"x":-1.82,"a":0.48,"b":-0.48},{"c":3,"v":8.55,"x":-0.64,"a":0.74,"b":-0.74},{"c":3,"v":8.55,"x":0,"a":0.74,"b":-0.74},{"c":3,"v":8.55,"x":0.64,"a":0.74,"b":-0.74},{"c":3,"v":8.55,"x":1.82,"a":0.48,"b":-0.48},{"c":3,"v":8.55,"x":4.16,"a":0.39,"b":-0.39},{"c":3,"v":8.55,"x":6,"a":0.19,"b":-0.19},
{"v":8.85,"x":-5.3,"a":0.07,"b":-0.07},{"v":8.85,"x":-4,"a":0.26,"b":-0.26},{"v":8.85,"x":-1.8,"a":0.32,"b":-0.32},{"v":8.85,"x":-0.7,"a":0.6,"b":-0.6},{"v":8.85,"x":0.7,"a":0.6,"b":-0.6},{"v":8.85,"x":1.8,"a":0.32,"b":-0.32},{"v":8.85,"x":4,"a":0.26,"b":-0.26},{"v":8.85,"x":5.3,"a":0.07,"b":-0.07},
{"c":3,"v":9.2,"x":-5.14,"a":0,"b":0},{"c":3,"v":9.2,"x":-3.97,"a":0.15,"b":-0.15},{"c":3,"v":9.2,"x":-1.82,"a":0.17,"b":-0.17},{"c":3,"v":9.2,"x":-0.74,"a":0.44,"b":-0.44},{"c":3,"v":9.2,"x":0,"a":0.47,"b":-0.47},{"c":3,"v":9.2,"x":0.74,"a":0.44,"b":-0.44},{"c":3,"v":9.2,"x":1.82,"a":0.17,"b":-0.17},{"c":3,"v":9.2,"x":3.97,"a":0.15,"b":-0.15},{"c":3,"v":9.2,"x":5.14,"a":0,"b":0},
{"c":3,"v":9.42,"x":-0.59,"a":0,"b":0},{"c":3,"v":9.42,"x":-0.45,"a":0.15,"b":-0.15},{"c":3,"v":9.42,"x":0,"a":0.2,"b":-0.2},{"c":3,"v":9.42,"x":0.45,"a":0.15,"b":-0.15},{"c":3,"v":9.42,"x":0.59,"a":0,"b":0}],
"f6":[
{"v":6.95,"x":-6,"a":2,"b":-2},{"v":6.95,"x":6,"a":2,"b":-2},
{"c":3,"v":7.15,"x":-6,"a":1.36,"b":-1.36},{"c":3,"v":7.15,"x":-4.05,"a":1.75,"b":-1.75},{"c":3,"v":7.15,"x":-3.56,"a":1.83,"b":-1.83},{"c":3,"v":7.15,"x":-2,"a":1.88,"b":-1.88},{"c":3,"v":7.15,"x":0,"a":1.94,"b":-1.94},{"c":3,"v":7.15,"x":2,"a":1.88,"b":-1.88},{"c":3,"v":7.15,"x":3.56,"a":1.83,"b":-1.83},{"c":3,"v":7.15,"x":4.05,"a":1.75,"b":-1.75},{"c":3,"v":7.15,"x":6,"a":1.36,"b":-1.36},
{"v":7.35,"x":-6,"a":1.16,"b":-1.16},{"v":7.35,"x":-3.5,"a":1.55,"b":-1.55},{"v":7.35,"x":-1.3,"a":1.72,"b":-1.72},{"v":7.35,"x":1.3,"a":1.72,"b":-1.72},{"v":7.35,"x":3.5,"a":1.55,"b":-1.55},{"v":7.35,"x":6,"a":1.16,"b":-1.16},
{"c":3,"v":7.55,"x":-6,"a":0.97,"b":-0.97},{"c":3,"v":7.55,"x":-3.56,"a":1.21,"b":-1.21},{"c":3,"v":7.55,"x":-1.31,"a":1.56,"b":-1.56},{"c":3,"v":7.55,"x":0,"a":1.57,"b":-1.57},{"c":3,"v":7.55,"x":1.31,"a":1.56,"b":-1.56},{"c":3,"v":7.55,"x":3.56,"a":1.21,"b":-1.21},{"c":3,"v":7.55,"x":6,"a":0.97,"b":-0.97},
{"v":7.8,"x":-6,"a":0.78,"b":-0.78},{"v":7.8,"x":-3.5,"a":1.04,"b":-1.04},{"v":7.8,"x":-1.3,"a":1.37,"b":-1.37},{"v":7.8,"x":1.3,"a":1.37,"b":-1.37},{"v":7.8,"x":3.5,"a":1.04,"b":-1.04},{"v":7.8,"x":6,"a":0.78,"b":-0.78},
{"c":3,"v":8.05,"x":-6,"a":0.6,"b":-0.6},{"c":3,"v":8.05,"x":-3.56,"a":0.88,"b":-0.88},{"c":3,"v":8.05,"x":-1.31,"a":1.17,"b":-1.17},{"c":3,"v":8.05,"x":0,"a":1.18,"b":-1.18},{"c":3,"v":8.05,"x":1.31,"a":1.17,"b":-1.17},{"c":3,"v":8.05,"x":3.56,"a":0.88,"b":-0.88},{"c":3,"v":8.05,"x":6,"a":0.6,"b":-0.6},
{"v":8.28,"x":-6,"a":0.46,"b":-0.46},{"v":8.28,"x":-3.5,"a":0.68,"b":-0.68},{"v":8.28,"x":-1.1,"a":0.98,"b":-0.98},{"v":8.28,"x":1.1,"a":0.98,"b":-0.98},{"v":8.28,"x":3.5,"a":0.68,"b":-0.68},{"v":8.28,"x":6,"a":0.46,"b":-0.46},
{"c":3,"v":8.5,"x":-6,"a":0.32,"b":-0.32},{"c":3,"v":8.5,"x":-3.56,"a":0.48,"b":-0.48},{"c":3,"v":8.5,"x":-0.82,"a":0.79,"b":-0.79},{"c":3,"v":8.5,"x":0,"a":0.8,"b":-0.8},{"c":3,"v":8.5,"x":0.82,"a":0.79,"b":-0.79},{"c":3,"v":8.5,"x":3.56,"a":0.48,"b":-0.48},{"c":3,"v":8.5,"x":6,"a":0.32,"b":-0.32},
{"v":8.8,"x":-6,"a":0.14,"b":-0.14},{"v":8.8,"x":-3.5,"a":0.32,"b":-0.32},{"v":8.8,"x":-0.8,"a":0.6,"b":-0.6},{"v":8.8,"x":0.8,"a":0.6,"b":-0.6},{"v":8.8,"x":3.5,"a":0.32,"b":-0.32},{"v":8.8,"x":6,"a":0.14,"b":-0.14},
{"c":3,"v":9.2,"x":-6,"a":0,"b":0},{"c":3,"v":9.2,"x":-4.92,"a":0.12,"b":-0.12},{"c":3,"v":9.2,"x":-1.6,"a":0.23,"b":-0.23},{"c":3,"v":9.2,"x":-0.63,"a":0.41,"b":-0.41},{"c":3,"v":9.2,"x":0,"a":0.44,"b":-0.44},{"c":3,"v":9.2,"x":0.63,"a":0.41,"b":-0.41},{"c":3,"v":9.2,"x":1.6,"a":0.23,"b":-0.23},{"c":3,"v":9.2,"x":4.92,"a":0.12,"b":-0.12},{"c":3,"v":9.2,"x":6,"a":0,"b":0},
{"c":3,"v":9.42,"x":-0.53,"a":0,"b":0},{"c":3,"v":9.42,"x":-0.33,"a":0.12,"b":-0.12},{"c":3,"v":9.42,"x":0,"a":0.18,"b":-0.18},{"c":3,"v":9.42,"x":0.33,"a":0.12,"b":-0.12},{"c":3,"v":9.42,"x":0.53,"a":0,"b":0}],
"f7":[
{"v":6.75,"x":-6,"a":2,"b":-2},{"v":6.75,"x":6,"a":2,"b":-2},
{"c":3,"v":6.95,"x":-6,"a":1.58,"b":-1.58},{"c":3,"v":6.95,"x":-5.48,"a":2,"b":-2},{"c":3,"v":6.95,"x":5.48,"a":2,"b":-2},{"c":3,"v":6.95,"x":6,"a":1.58,"b":-1.58},
{"v":7.05,"x":-5.85,"a":1,"b":-1},{"v":7.05,"x":-5.1,"a":1.5,"b":-1.5},{"v":7.05,"x":-4.4,"a":2,"b":-2},{"v":7.05,"x":4.4,"a":2,"b":-2},{"v":7.05,"x":5.1,"a":1.5,"b":-1.5},{"v":7.05,"x":5.85,"a":1,"b":-1},
{"c":3,"v":7.22,"x":-5.72,"a":0.99,"b":-0.99},{"c":3,"v":7.22,"x":-4.42,"a":1.63,"b":-1.63},{"c":3,"v":7.22,"x":-4.24,"a":1.8,"b":-1.8},{"c":3,"v":7.22,"x":-3.35,"a":2,"b":-2},{"c":3,"v":7.22,"x":3.35,"a":2,"b":-2},{"c":3,"v":7.22,"x":4.24,"a":1.8,"b":-1.8},{"c":3,"v":7.22,"x":4.42,"a":1.63,"b":-1.63},{"c":3,"v":7.22,"x":5.72,"a":0.99,"b":-0.99},
{"v":7.42,"x":-5.4,"a":0.7,"b":-0.7},{"v":7.42,"x":-3.2,"a":1.4,"b":-1.4},{"v":7.42,"x":-1.5,"a":1.8,"b":-1.8},{"v":7.42,"x":1.5,"a":1.8,"b":-1.8},{"v":7.42,"x":3.2,"a":1.4,"b":-1.4},{"v":7.42,"x":5.4,"a":0.7,"b":-0.7},
{"c":3,"v":7.62,"x":-5,"a":0.45,"b":-0.45},{"c":3,"v":7.62,"x":-4.8,"a":0.58,"b":-0.58},{"c":3,"v":7.62,"x":-4.05,"a":0.75,"b":-0.75},{"c":3,"v":7.62,"x":-1.82,"a":1.41,"b":-1.41},{"c":3,"v":7.62,"x":-0.71,"a":1.55,"b":-1.55},{"c":3,"v":7.62,"x":0,"a":1.57,"b":-1.57},{"c":3,"v":7.62,"x":0.71,"a":1.55,"b":-1.55},{"c":3,"v":7.62,"x":1.82,"a":1.41,"b":-1.41},{"c":3,"v":7.62,"x":4.05,"a":0.75,"b":-0.75},{"c":3,"v":7.62,"x":4.8,"a":0.58,"b":-0.58},{"c":3,"v":7.62,"x":5,"a":0.45,"b":-0.45},
{"v":7.82,"x":-4,"a":0.4,"b":-0.4},{"v":7.82,"x":-2,"a":0.95,"b":-0.95},{"v":7.82,"x":-0.8,"a":1.2,"b":-1.2},{"v":7.82,"x":0.8,"a":1.2,"b":-1.2},{"v":7.82,"x":2,"a":0.95,"b":-0.95},{"v":7.82,"x":4,"a":0.4,"b":-0.4},
{"c":3,"v":8.05,"x":-3.3,"a":0.15,"b":-0.15},{"c":3,"v":8.05,"x":-3.12,"a":0.29,"b":-0.29},{"c":3,"v":8.05,"x":-2.19,"a":0.42,"b":-0.42},{"c":3,"v":8.05,"x":-1.26,"a":0.77,"b":-0.77},{"c":3,"v":8.05,"x":0,"a":0.9,"b":-0.9},{"c":3,"v":8.05,"x":1.26,"a":0.77,"b":-0.77},{"c":3,"v":8.05,"x":2.19,"a":0.42,"b":-0.42},{"c":3,"v":8.05,"x":3.12,"a":0.29,"b":-0.29},{"c":3,"v":8.05,"x":3.3,"a":0.15,"b":-0.15},
{"v":8.3,"x":-2.2,"a":0.12,"b":-0.12},{"v":8.3,"x":-1.2,"a":0.5,"b":-0.5},{"v":8.3,"x":0,"a":0.68,"b":-0.68},{"v":8.3,"x":1.2,"a":0.5,"b":-0.5},{"v":8.3,"x":2.2,"a":0.12,"b":-0.12},
{"c":3,"v":8.65,"x":-1.26,"a":0,"b":0},{"c":3,"v":8.65,"x":-0.8,"a":0.31,"b":-0.31},{"c":3,"v":8.65,"x":-0.33,"a":0.44,"b":-0.44},{"c":3,"v":8.65,"x":0,"a":0.45,"b":-0.45},{"c":3,"v":8.65,"x":0.33,"a":0.44,"b":-0.44},{"c":3,"v":8.65,"x":0.8,"a":0.31,"b":-0.31},{"c":3,"v":8.65,"x":1.26,"a":0,"b":0},
{"c":3,"v":9.1,"x":-0.52,"a":0,"b":0},{"c":3,"v":9.1,"x":-0.33,"a":0.18,"b":-0.18},{"c":3,"v":9.1,"x":0,"a":0.24,"b":-0.24},{"c":3,"v":9.1,"x":0.33,"a":0.18,"b":-0.18},{"c":3,"v":9.1,"x":0.52,"a":0,"b":0},
{"c":3,"v":9.4,"x":-0.2,"a":0,"b":0},{"c":3,"v":9.4,"x":0,"a":0.05,"b":-0.05},{"c":3,"v":9.4,"x":0.2,"a":0,"b":0}],
"f8":[
{"v":5.5,"x":-6,"a":2,"b":-2},{"v":5.5,"x":6,"a":2,"b":-2},
{"v":5.6,"x":-5.6,"a":2,"b":-2},{"v":5.6,"x":5.6,"a":2,"b":-2},
{"v":5.75,"x":-5.2,"a":2,"b":-2},{"v":5.75,"x":5.2,"a":2,"b":-2},
{"c":3,"v":5.95,"x":-4.94,"a":1.19,"b":-1.19},{"c":3,"v":5.95,"x":-4.75,"a":1.58,"b":-1.58},{"c":3,"v":5.95,"x":-4.66,"a":2,"b":-2},{"c":3,"v":5.95,"x":4.66,"a":2,"b":-2},{"c":3,"v":5.95,"x":4.75,"a":1.58,"b":-1.58},{"c":3,"v":5.95,"x":4.94,"a":1.19,"b":-1.19},
{"v":6.08,"x":-4.2,"a":2,"b":-2},{"v":6.08,"x":4.2,"a":2,"b":-2},
{"c":3,"v":6.25,"x":-3.78,"a":0.9,"b":-0.9},{"c":3,"v":6.25,"x":-3.64,"a":1.49,"b":-1.49},{"c":3,"v":6.25,"x":-3.27,"a":2,"b":-2},{"c":3,"v":6.25,"x":3.27,"a":2,"b":-2},{"c":3,"v":6.25,"x":3.64,"a":1.49,"b":-1.49},{"c":3,"v":6.25,"x":3.78,"a":0.9,"b":-0.9},
{"v":6.4,"x":-2.9,"a":2,"b":-2},{"v":6.4,"x":2.9,"a":2,"b":-2},
{"v":6.52,"x":-2,"a":2,"b":-2},{"v":6.52,"x":2,"a":2,"b":-2},
{"c":3,"v":6.8,"x":-2.52,"a":0.66,"b":-0.66},{"c":3,"v":6.8,"x":-1.41,"a":0.97,"b":-0.97},{"c":3,"v":6.8,"x":-1.13,"a":1.27,"b":-1.27},{"c":3,"v":6.8,"x":-0.3,"a":1.43,"b":-1.43},{"c":3,"v":6.8,"x":0,"a":1.45,"b":-1.45},{"c":3,"v":6.8,"x":0.3,"a":1.43,"b":-1.43},{"c":3,"v":6.8,"x":1.13,"a":1.27,"b":-1.27},{"c":3,"v":6.8,"x":1.41,"a":0.97,"b":-0.97},{"c":3,"v":6.8,"x":2.52,"a":0.66,"b":-0.66},
{"v":7.05,"x":-1.8,"a":0.4,"b":-0.4},{"v":7.05,"x":-0.9,"a":0.85,"b":-0.85},{"v":7.05,"x":0,"a":1,"b":-1},{"v":7.05,"x":0.9,"a":0.85,"b":-0.85},{"v":7.05,"x":1.8,"a":0.4,"b":-0.4},
{"c":3,"v":7.4,"x":-1.32,"a":0.4,"b":-0.4},{"c":3,"v":7.4,"x":-0.76,"a":0.64,"b":-0.64},{"c":3,"v":7.4,"x":0,"a":0.69,"b":-0.69},{"c":3,"v":7.4,"x":0.76,"a":0.64,"b":-0.64},{"c":3,"v":7.4,"x":1.32,"a":0.4,"b":-0.4},
{"c":3,"v":7.85,"x":-0.82,"a":0.26,"b":-0.26},{"c":3,"v":7.85,"x":0,"a":0.42,"b":-0.42},{"c":3,"v":7.85,"x":0.82,"a":0.26,"b":-0.26},
{"c":3,"v":8.15,"x":-0.3,"a":0.17,"b":-0.17},{"c":3,"v":8.15,"x":0,"a":0.24,"b":-0.24},{"c":3,"v":8.15,"x":0.3,"a":0.17,"b":-0.17}],
"m7":[{"l":1,"x":-6,"a":1,"b":-1},{"l":1,"x":-5.6,"a":0.85,"b":-0.85},{"l":1,"x":-4.8,"a":0.58,"b":-0.58},{"l":1,"x":-4,"a":0.42,"b":-0.42},{"l":1,"x":-3.12,"a":0.29,"b":-0.29},{"l":1,"x":-2.3,"a":0.13,"b":-0.13},{"l":1,"x":-1.95,"a":0.02,"b":-0.02},{"l":1,"x":-1.9,"a":0,"b":0},{"l":2,"x":1.9,"a":0,"b":0},{"l":2,"x":1.95,"a":0.02,"b":-0.02},{"l":2,"x":2.3,"a":0.13,"b":-0.13},{"l":2,"x":3.12,"a":0.29,"b":-0.29},{"l":2,"x":4,"a":0.42,"b":-0.42},{"l":2,"x":4.8,"a":0.58,"b":-0.58},{"l":2,"x":5.6,"a":0.85,"b":-0.85},{"l":2,"x":6,"a":1,"b":-1}],
"m8":[{"l":1,"x":-6,"a":1.52,"b":-1.52},{"l":1,"x":-4.94,"a":1.19,"b":-1.19},{"l":1,"x":-3.82,"a":0.88,"b":-0.88},{"l":1,"x":-2.52,"a":0.65,"b":-0.65},{"l":1,"x":-1.32,"a":0.4,"b":-0.4},{"l":1,"x":-0.67,"a":0.22,"b":-0.22},{"l":1,"x":-0.3,"a":0.155,"b":-0.155},{"l":1,"x":0,"a":0.145,"b":-0.145},{"l":1,"x":0.3,"a":0.155,"b":-0.155},{"l":1,"x":0.67,"a":0.22,"b":-0.22},{"l":1,"x":1.32,"a":0.4,"b":-0.4},{"l":1,"x":2.52,"a":0.65,"b":-0.65},{"l":1,"x":3.82,"a":0.88,"b":-0.88},{"l":1,"x":4.94,"a":1.19,"b":-1.19},{"l":1,"x":6,"a":1.52,"b":-1.52}],
"d1":[{"l":1,"x":-5.32,"a":-0.79},{"l":1,"x":-1.67,"a":5.05},{"l":2,"x":-5,"a":-1.77},{"l":2,"x":2.04,"a":4.79},{"l":3,"x":-4.77,"a":-2.53},{"l":3,"x":4.71,"a":2.5},{"l":4,"x":-4.28,"a":-3.17},{"l":4,"x":5.14,"a":-0.98},{"l":5,"x":-3.66,"a":-3.97},{"l":5,"x":3.26,"a":-4.23}],
"d3":[{"l":1,"x":-5.17,"a":-0.56},{"l":1,"x":-1.67,"a":5.03},{"l":2,"x":-4.81,"a":-1.59},{"l":2,"x":2.04,"a":4.8},{"l":3,"x":-4.54,"a":-2.42},{"l":3,"x":4.44,"a":2.36},{"l":4,"x":-4.28,"a":-3.17},{"l":4,"x":5.09,"a":-1},{"l":5,"x":-3.66,"a":-3.97},{"l":5,"x":3.26,"a":-4.23}],
"d4":[{"l":1,"x":-5.03,"a":-0.33},{"l":1,"x":-1.68,"a":5.03},{"l":2,"x":-4.81,"a":-1.57},{"l":2,"x":2.05,"a":4.8},{"l":3,"x":-4.31,"a":-2.3},{"l":3,"x":4.49,"a":2.36},{"l":4,"x":-4.01,"a":-3.1},{"l":4,"x":4.89,"a":-1.04},{"l":5,"x":-3.38,"a":-3.99},{"l":5,"x":3.28,"a":-4.19}],
"cb":[{"a":5.5,"b":5.56},{"a":5.55,"b":5.61},{"a":5.6,"b":5.66},{"a":5.65,"b":5.71},{"a":5.7,"b":5.76},{"a":5.75,"b":5.81},{"a":5.8,"b":5.86},{"a":5.85,"b":5.91},{"a":5.9,"b":5.96},{"a":5.95,"b":6.01},{"a":6,"b":6.06},{"a":6.05,"b":6.11},{"a":6.1,"b":6.16},{"a":6.15,"b":6.21},{"a":6.2,"b":6.26},{"a":6.25,"b":6.31},{"a":6.3,"b":6.36},{"a":6.35,"b":6.41},{"a":6.4,"b":6.46},{"a":6.45,"b":6.51},{"a":6.5,"b":6.56},{"a":6.55,"b":6.61},{"a":6.6,"b":6.66},{"a":6.65,"b":6.71},{"a":6.7,"b":6.76},{"a":6.75,"b":6.81},{"a":6.8,"b":6.86},{"a":6.85,"b":6.91},{"a":6.9,"b":6.96},{"a":6.95,"b":7.01},{"a":7,"b":7.06},{"a":7.05,"b":7.11},{"a":7.1,"b":7.16},{"a":7.15,"b":7.21},{"a":7.2,"b":7.26},{"a":7.25,"b":7.31},{"a":7.3,"b":7.36},{"a":7.35,"b":7.41},{"a":7.4,"b":7.46},{"a":7.45,"b":7.51},{"a":7.5,"b":7.56},{"a":7.55,"b":7.61},{"a":7.6,"b":7.66},{"a":7.65,"b":7.71},{"a":7.7,"b":7.76},{"a":7.75,"b":7.81},{"a":7.8,"b":7.86},{"a":7.85,"b":7.91},{"a":7.9,"b":7.96},{"a":7.95,"b":8.01},{"a":8,"b":8.06},{"a":8.05,"b":8.11},{"a":8.1,"b":8.16},{"a":8.15,"b":8.21},{"a":8.2,"b":8.26},{"a":8.25,"b":8.31},{"a":8.3,"b":8.36},{"a":8.35,"b":8.41},{"a":8.4,"b":8.46},{"a":8.45,"b":8.51},{"a":8.5,"b":8.56},{"a":8.55,"b":8.61},{"a":8.6,"b":8.66},{"a":8.65,"b":8.71},{"a":8.7,"b":8.76},{"a":8.75,"b":8.81},{"a":8.8,"b":8.86},{"a":8.85,"b":8.91},{"a":8.9,"b":8.96},{"a":8.95,"b":9.01},{"a":9,"b":9.06},{"a":9.05,"b":9.11},{"a":9.1,"b":9.16},{"a":9.15,"b":9.21},{"a":9.2,"b":9.26},{"a":9.25,"b":9.31},{"a":9.3,"b":9.36},{"a":9.35,"b":9.41},{"a":9.4,"b":9.46},{"a":9.45,"b":9.5}]
},
"vconcat":[
{"columns":7,"bounds":"flush","center":true,"spacing":{"row":52,"column":0},"concat":[
{"width":791,"height":786,"data":{"name":"f1"},"encoding":{"x":{"field":"x","type":"quantitative","scale":{"domain":[-6,6]},"axis":null},"y":{"field":"a","type":"quantitative","scale":{"domain":[-6,6]},"axis":null}},"resolve":{"axis":{"x":"independent","y":"independent"}},"layer":[
{"mark":{"type":"area","orient":"vertical"},"encoding":{"x":{"field":"x","type":"quantitative","scale":{"domain":[-6,6]},"axis":{"orient":"bottom","values":[-6,-4,-2,0,2,4,6],"labels":false,"title":null,"zindex":1}},"y":{"field":"a","type":"quantitative","scale":{"domain":[-6,6]},"axis":{"orient":"left","values":[-6,-4,-2,0,2,4,6],"title":"y [kpc]","titlePadding":10,"labelExpr":"''+datum.value","zindex":1}},"y2":{"field":"b"},"fill":{"field":"v","type":"quantitative","scale":{"scheme":"inferno","domain":[5.5,9.5]},"legend":null},"detail":{"field":"v"}}},
{"transform":[{"filter":"datum.c&1"}],"mark":"line","encoding":{"x":{"field":"x","type":"quantitative","scale":{"domain":[-6,6]},"axis":{"orient":"top","values":[-4,4],"domain":false,"labels":false,"title":null,"zindex":1}},"y":{"field":"a","type":"quantitative","scale":{"domain":[-6,6]},"axis":{"orient":"right","values":[-6,-4,-2,0,2,4,6],"labels":false,"title":null,"zindex":1}},"detail":{"field":"v"}}},
{"transform":[{"filter":"datum.c&2"}],"mark":"line","encoding":{"y":{"field":"b","type":"quantitative","scale":{"domain":[-6,6]},"axis":null},"detail":{"field":"v"}}},
{"data":{"name":"d1"},"mark":{"type":"line","stroke":"white","strokeWidth":5,"strokeDash":[4,13],"interpolate":"linear"},"encoding":{"detail":{"field":"l"}}},
{"data":{"values":[{"x":-6,"x2":-2.68,"a":6},{"x":2.68,"x2":6,"a":6}]},"mark":"rule","encoding":{"x2":{"field":"x2"}}},
{"data":{"values":[{"x":0,"a":5.62,"s":"0.5 ≥ [Fe/H] ≥ 0.0"}]},"mark":"text","encoding":{"text":{"field":"s"}}}]},
{"width":201,"height":1,"data":{"values":[]},"mark":"rule","encoding":{}},
{"width":791,"height":786,"data":{"name":"f2"},"encoding":{"x":{"field":"x","type":"quantitative","scale":{"domain":[-6,6]},"axis":null},"y":{"field":"a","type":"quantitative","scale":{"domain":[-6,6]},"axis":null}},"resolve":{"axis":{"x":"independent","y":"independent"}},"layer":[
{"mark":{"type":"area","orient":"vertical"},"encoding":{"x":{"field":"x","type":"quantitative","scale":{"domain":[-6,6]},"axis":{"orient":"bottom","values":[-6,-4,-2,0,2,4,6],"labels":false,"title":null,"zindex":1}},"y":{"field":"a","type":"quantitative","scale":{"domain":[-6,6]},"axis":{"orient":"left","values":[-6,-4,-2,0,2,4,6],"title":"y [kpc]","titlePadding":10,"labelExpr":"''+datum.value","zindex":1}},"y2":{"field":"b"},"fill":{"field":"v","type":"quantitative","scale":{"scheme":"inferno","domain":[5.5,9.5]},"legend":null},"detail":{"field":"v"}}},
{"transform":[{"filter":"datum.c&1"}],"mark":"line","encoding":{"x":{"field":"x","type":"quantitative","scale":{"domain":[-6,6]},"axis":{"orient":"top","values":[-4,4],"domain":false,"labels":false,"title":null,"zindex":1}},"y":{"field":"a","type":"quantitative","scale":{"domain":[-6,6]},"axis":{"orient":"right","values":[-6,-4,-2,0,2,4,6],"labels":false,"title":null,"zindex":1}},"detail":{"field":"v"}}},
{"transform":[{"filter":"datum.c&2"}],"mark":"line","encoding":{"y":{"field":"b","type":"quantitative","scale":{"domain":[-6,6]},"axis":null},"detail":{"field":"v"}}},
{"data":{"name":"d1"},"mark":{"type":"line","stroke":"white","strokeWidth":5,"strokeDash":[4,13],"interpolate":"linear"},"encoding":{"detail":{"field":"l"}}},
{"data":{"values":[{"x":-6,"x2":-2.92,"a":6},{"x":2.92,"x2":6,"a":6}]},"mark":"rule","encoding":{"x2":{"field":"x2"}}},
{"data":{"values":[{"x":0,"a":5.62,"s":"0.0 ≥ [Fe/H] ≥ −0.5"}]},"mark":"text","encoding":{"text":{"field":"s"}}}]},
{"width":343,"height":1,"data":{"values":[]},"mark":"rule","encoding":{}},
{"width":797,"height":793,"data":{"name":"f3"},"encoding":{"x":{"field":"x","type":"quantitative","scale":{"domain":[-6,6]},"axis":null},"y":{"field":"a","type":"quantitative","scale":{"domain":[-6,6]},"axis":null}},"resolve":{"axis":{"x":"independent","y":"independent"}},"layer":[
{"mark":{"type":"area","orient":"vertical"},"encoding":{"x":{"field":"x","type":"quantitative","scale":{"domain":[-6,6]},"axis":{"orient":"bottom","values":[-6,-4,-2,0,2,4,6],"labels":false,"title":null,"zindex":1}},"y":{"field":"a","type":"quantitative","scale":{"domain":[-6,6]},"axis":{"orient":"left","values":[-6,-4,-2,0,2,4,6],"title":"y [kpc]","titlePadding":10,"labelExpr":"''+datum.value","zindex":1}},"y2":{"field":"b"},"fill":{"field":"v","type":"quantitative","scale":{"scheme":"inferno","domain":[5.5,9.5]},"legend":null},"detail":{"field":"v"}}},
{"transform":[{"filter":"datum.c&1"}],"mark":"line","encoding":{"x":{"field":"x","type":"quantitative","scale":{"domain":[-6,6]},"axis":{"orient":"top","values":[-4,4],"domain":false,"labels":false,"title":null,"zindex":1}},"y":{"field":"a","type":"quantitative","scale":{"domain":[-6,6]},"axis":{"orient":"right","values":[-6,-4,-2,0,2,4,6],"labels":false,"title":null,"zindex":1}},"detail":{"field":"v"}}},
{"transform":[{"filter":"datum.c&2"}],"mark":"line","encoding":{"y":{"field":"b","type":"quantitative","scale":{"domain":[-6,6]},"axis":null},"detail":{"field":"v"}}},
{"data":{"name":"d3"},"mark":{"type":"line","stroke":"white","strokeWidth":5,"strokeDash":[4,13],"interpolate":"linear"},"encoding":{"detail":{"field":"l"}}},
{"data":{"values":[{"x":-6,"x2":-3.15,"a":6},{"x":3.15,"x2":6,"a":6}]},"mark":"rule","encoding":{"x2":{"field":"x2"}}},
{"data":{"values":[{"x":0,"a":5.62,"s":"−0.5 ≥ [Fe/H] ≥ −1.0"}]},"mark":"text","encoding":{"text":{"field":"s"}}}]},
{"width":206,"height":1,"data":{"values":[]},"mark":"rule","encoding":{}},
{"width":794,"height":793,"data":{"name":"f4"},"encoding":{"x":{"field":"x","type":"quantitative","scale":{"domain":[-6,6]},"axis":null},"y":{"field":"a","type":"quantitative","scale":{"domain":[-6,6]},"axis":null}},"resolve":{"axis":{"x":"independent","y":"independent"}},"layer":[
{"mark":{"type":"area","orient":"vertical"},"encoding":{"x":{"field":"x","type":"quantitative","scale":{"domain":[-6,6]},"axis":{"orient":"bottom","values":[-6,-4,-2,0,2,4,6],"labels":false,"title":null,"zindex":1}},"y":{"field":"a","type":"quantitative","scale":{"domain":[-6,6]},"axis":{"orient":"left","values":[-6,-4,-2,0,2,4,6],"title":"y [kpc]","titlePadding":10,"labelExpr":"''+datum.value","zindex":1}},"y2":{"field":"b"},"fill":{"field":"v","type":"quantitative","scale":{"scheme":"inferno","domain":[5.5,9.5]},"legend":null},"detail":{"field":"v"}}},
{"transform":[{"filter":"datum.c&1"}],"mark":"line","encoding":{"x":{"field":"x","type":"quantitative","scale":{"domain":[-6,6]},"axis":{"orient":"top","values":[-4,4],"domain":false,"labels":false,"title":null,"zindex":1}},"y":{"field":"a","type":"quantitative","scale":{"domain":[-6,6]},"axis":{"orient":"right","values":[-6,-4,-2,0,2,4,6],"labels":false,"title":null,"zindex":1}},"detail":{"field":"v"}}},
{"transform":[{"filter":"datum.c&2"}],"mark":"line","encoding":{"y":{"field":"b","type":"quantitative","scale":{"domain":[-6,6]},"axis":null},"detail":{"field":"v"}}},
{"data":{"name":"d4"},"mark":{"type":"line","stroke":"white","strokeWidth":5,"strokeDash":[4,13],"interpolate":"linear"},"encoding":{"detail":{"field":"l"}}},
{"data":{"values":[{"x":-6,"x2":-3.16,"a":6},{"x":3.16,"x2":6,"a":6}]},"mark":"rule","encoding":{"x2":{"field":"x2"}}},
{"data":{"values":[{"x":0,"a":5.62,"s":"−1.0 ≥ [Fe/H] ≥ −1.5"}]},"mark":"text","encoding":{"text":{"field":"s"}}}]},
{"width":791,"height":262,"data":{"name":"f5"},"encoding":{"x":{"field":"x","type":"quantitative","scale":{"domain":[-6,6]},"axis":null},"y":{"field":"a","type":"quantitative","scale":{"domain":[-2,2]},"axis":null}},"resolve":{"axis":{"x":"independent","y":"independent"}},"layer":[
{"mark":{"type":"area","orient":"vertical"},"encoding":{"x":{"field":"x","type":"quantitative","scale":{"domain":[-6,6]},"axis":{"orient":"bottom","values":[-6,-4,-2,0,2,4,6],"title":"x [kpc]","titlePadding":35,"labelExpr":"''+datum.value","zindex":1}},"y":{"field":"a","type":"quantitative","scale":{"domain":[-2,2]},"axis":{"orient":"left","values":[-2,-1,0,1,2],"title":"z [kpc]","titlePadding":10,"labelExpr":"''+datum.value","zindex":1}},"y2":{"field":"b"},"fill":{"field":"v","type":"quantitative","scale":{"scheme":"inferno","domain":[5.5,9.5]},"legend":null},"detail":{"field":"v"}}},
{"transform":[{"filter":"datum.c&1"}],"mark":"line","encoding":{"x":{"field":"x","type":"quantitative","scale":{"domain":[-6,6]},"axis":{"orient":"top","values":[-6,-4,-2,0,2,4,6],"labels":false,"title":null,"zindex":1}},"y":{"field":"a","type":"quantitative","scale":{"domain":[-2,2]},"axis":{"orient":"right","values":[-2,-1,0,1,2],"labels":false,"title":null,"zindex":1}},"detail":{"field":"v"}}},
{"transform":[{"filter":"datum.c&2"}],"mark":"line","encoding":{"y":{"field":"b","type":"quantitative","scale":{"domain":[-2,2]},"axis":null},"detail":{"field":"v"}}}]},
{"width":201,"height":1,"data":{"values":[]},"mark":"rule","encoding":{}},
{"width":791,"height":262,"data":{"name":"f6"},"encoding":{"x":{"field":"x","type":"quantitative","scale":{"domain":[-6,6]},"axis":null},"y":{"field":"a","type":"quantitative","scale":{"domain":[-2,2]},"axis":null}},"resolve":{"axis":{"x":"independent","y":"independent"}},"layer":[
{"mark":{"type":"area","orient":"vertical"},"encoding":{"x":{"field":"x","type":"quantitative","scale":{"domain":[-6,6]},"axis":{"orient":"bottom","values":[-6,-4,-2,0,2,4,6],"title":"x [kpc]","titlePadding":35,"labelExpr":"''+datum.value","zindex":1}},"y":{"field":"a","type":"quantitative","scale":{"domain":[-2,2]},"axis":{"orient":"left","values":[-2,-1,0,1,2],"title":"z [kpc]","titlePadding":10,"labelExpr":"''+datum.value","zindex":1}},"y2":{"field":"b"},"fill":{"field":"v","type":"quantitative","scale":{"scheme":"inferno","domain":[5.5,9.5]},"legend":null},"detail":{"field":"v"}}},
{"transform":[{"filter":"datum.c&1"}],"mark":"line","encoding":{"x":{"field":"x","type":"quantitative","scale":{"domain":[-6,6]},"axis":{"orient":"top","values":[-6,-4,-2,0,2,4,6],"labels":false,"title":null,"zindex":1}},"y":{"field":"a","type":"quantitative","scale":{"domain":[-2,2]},"axis":{"orient":"right","values":[-2,-1,0,1,2],"labels":false,"title":null,"zindex":1}},"detail":{"field":"v"}}},
{"transform":[{"filter":"datum.c&2"}],"mark":"line","encoding":{"y":{"field":"b","type":"quantitative","scale":{"domain":[-2,2]},"axis":null},"detail":{"field":"v"}}}]},
{"width":343,"height":1,"data":{"values":[]},"mark":"rule","encoding":{}},
{"width":797,"height":266,"data":{"name":"f7"},"encoding":{"x":{"field":"x","type":"quantitative","scale":{"domain":[-6,6]},"axis":null},"y":{"field":"a","type":"quantitative","scale":{"domain":[-2,2]},"axis":null}},"resolve":{"axis":{"x":"independent","y":"independent"}},"layer":[
{"mark":{"type":"area","orient":"vertical"},"encoding":{"x":{"field":"x","type":"quantitative","scale":{"domain":[-6,6]},"axis":{"orient":"bottom","values":[-6,-4,-2,0,2,4,6],"title":"x [kpc]","titlePadding":35,"labelExpr":"''+datum.value","zindex":1}},"y":{"field":"a","type":"quantitative","scale":{"domain":[-2,2]},"axis":{"orient":"left","values":[-2,-1,0,1,2],"title":"z [kpc]","titlePadding":10,"labelExpr":"''+datum.value","zindex":1}},"y2":{"field":"b"},"fill":{"field":"v","type":"quantitative","scale":{"scheme":"inferno","domain":[5.5,9.5]},"legend":null},"detail":{"field":"v"}}},
{"transform":[{"filter":"datum.c&1"}],"mark":"line","encoding":{"x":{"field":"x","type":"quantitative","scale":{"domain":[-6,6]},"axis":{"orient":"top","values":[-6,-4,-2,0,2,4,6],"labels":false,"title":null,"zindex":1}},"y":{"field":"a","type":"quantitative","scale":{"domain":[-2,2]},"axis":{"orient":"right","values":[-2,-1,0,1,2],"labels":false,"title":null,"zindex":1}},"detail":{"field":"v"}}},
{"transform":[{"filter":"datum.c&2"}],"mark":"line","encoding":{"y":{"field":"b","type":"quantitative","scale":{"domain":[-2,2]},"axis":null},"detail":{"field":"v"}}},
{"data":{"name":"m7"},"mark":{"type":"area","orient":"vertical","fill":"white"},"encoding":{"y2":{"field":"b"},"detail":{"field":"l"}}}]},
{"width":206,"height":1,"data":{"values":[]},"mark":"rule","encoding":{}},
{"width":794,"height":266,"data":{"name":"f8"},"encoding":{"x":{"field":"x","type":"quantitative","scale":{"domain":[-6,6]},"axis":null},"y":{"field":"a","type":"quantitative","scale":{"domain":[-2,2]},"axis":null}},"resolve":{"axis":{"x":"independent","y":"independent"}},"layer":[
{"mark":{"type":"area","orient":"vertical"},"encoding":{"x":{"field":"x","type":"quantitative","scale":{"domain":[-6,6]},"axis":{"orient":"bottom","values":[-6,-4,-2,0,2,4,6],"title":"x [kpc]","titlePadding":35,"labelExpr":"''+datum.value","zindex":1}},"y":{"field":"a","type":"quantitative","scale":{"domain":[-2,2]},"axis":{"orient":"left","values":[-2,-1,0,1,2],"title":"z [kpc]","titlePadding":10,"labelExpr":"''+datum.value","zindex":1}},"y2":{"field":"b"},"fill":{"field":"v","type":"quantitative","scale":{"scheme":"inferno","domain":[5.5,9.5]},"legend":null},"detail":{"field":"v"}}},
{"transform":[{"filter":"datum.c&1"}],"mark":"line","encoding":{"x":{"field":"x","type":"quantitative","scale":{"domain":[-6,6]},"axis":{"orient":"top","values":[-6,-4,-2,0,2,4,6],"labels":false,"title":null,"zindex":1}},"y":{"field":"a","type":"quantitative","scale":{"domain":[-2,2]},"axis":{"orient":"right","values":[-2,-1,0,1,2],"labels":false,"title":null,"zindex":1}},"detail":{"field":"v"}}},
{"transform":[{"filter":"datum.c&2"}],"mark":"line","encoding":{"y":{"field":"b","type":"quantitative","scale":{"domain":[-2,2]},"axis":null},"detail":{"field":"v"}}},
{"data":{"name":"m8"},"mark":{"type":"area","orient":"vertical","fill":"white"},"encoding":{"y2":{"field":"b"},"detail":{"field":"l"}}}]}
]},
{"width":3923,"height":100,"title":{"text":"log₁₀(Σ [M⊙.kpc⁻²])","font":"Liberation Serif","fontSize":68,"fontWeight":"normal","color":"black","offset":41,"anchor":"middle"},"data":{"name":"cb"},"resolve":{"axis":{"x":"independent"}},"layer":[
{"mark":"rect","encoding":{"x":{"field":"a","type":"quantitative","scale":{"domain":[4.9376,10.104],"nice":false},"axis":{"orient":"bottom","values":[5.5,6,6.5,7,7.5,8,8.5,9,9.5],"format":".1f","domain":false,"tickSize":-31,"labelFontSize":60,"labelPadding":43,"title":null,"zindex":1}},"x2":{"field":"b"},"fill":{"field":"a","type":"quantitative","scale":{"scheme":"inferno","domain":[5.5,9.5]},"legend":null}}},
{"data":{"values":[{"a":5.5,"b":9.5}]},"mark":{"type":"rect","fillOpacity":0,"stroke":"black","strokeWidth":3},"encoding":{"x":{"field":"a","type":"quantitative","scale":{"domain":[4.9376,10.104],"nice":false},"axis":null},"x2":{"field":"b"}}}]}
],"spacing":56}
